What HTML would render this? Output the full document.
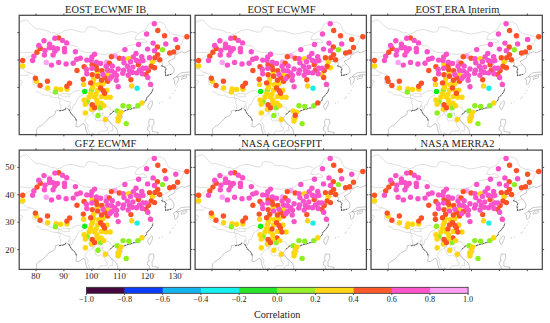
<!DOCTYPE html><html><head><meta charset="utf-8"><style>html,body{margin:0;padding:0;background:#fff;}svg{display:block}text{font-family:"Liberation Serif",serif;fill:#222}</style></head><body>
<svg width="550" height="323" viewBox="0 0 550 323">
<defs>
<clipPath id="cp"><rect x="0" y="0" width="171.3" height="119.3"/></clipPath>
<g id="map">
<g fill="none" stroke="#c4c4c4" stroke-width="0.55" stroke-linejoin="round"><path d="M0.0,7.3 L0.9,6.8 L4.2,5.2 L7.4,4.6 L10.7,7.9 L14.0,11.2 L17.8,13.9 L20.0,13.3 L22.7,14.4 L27.1,15.0 L30.3,16.6 L32.5,17.7 L35.2,17.1 L37.4,18.8 L40.7,18.2 L42.9,17.1 L45.6,15.5 L50.0,14.4 L53.2,14.4 L56.5,15.0 L56.8,15.6 L61.2,16.7 L65.5,16.7 L67.2,14.5 L67.7,12.3 L69.9,11.5 L74.2,11.8 L77.5,12.9 L79.7,15.1 L83.0,15.8 L87.3,15.6 L91.7,16.7 L95.0,17.8 L99.3,18.9 L103.7,18.3 L108.1,17.2 L112.4,16.2 L115.3,16.7 L119.0,18.3"/><path d="M37.4,18.8 L39.8,21.2 L42.8,24.2 L45.8,27.2 L49.4,29.3 L52.8,30.1 L56.8,30.9 L59.0,33.1 L61.2,35.2 L65.5,36.9 L71.0,37.4 L78.6,38.5 L85.2,39.1 L92.8,38.5 L98.2,37.4 L101.5,35.2 L104.8,33.1 L108.1,30.9 L112.4,29.8 L116.3,29.2 L118.6,28.1 L120.8,27.3 L127.7,27.3 L127.2,25.6 L123.8,23.6 L120.5,24.5 L115.7,24.2 L116.0,22.8 L117.3,20.2 L119.0,18.3"/><path d="M119.0,18.3 L122.8,16.3 L126.1,14.7 L127.7,11.5 L128.8,9.3 L132.1,7.1 L137.5,6.6 L141.8,7.1 L144.5,8.2 L146.1,10.4 L147.2,13.6 L149.4,16.9 L152.6,18.5 L157.0,19.6 L161.3,20.7 L165.6,21.7 L168.9,20.9 L171.8,20.2"/><path d="M165.6,21.7 L164.6,22.7 L163.5,25.5 L162.4,28.8 L160.4,30.6 L159.4,33.2 L159.0,35.7 L157.7,38.8"/><path d="M157.7,38.8 L154.8,39.0 L151.8,40.5 L148.8,42.1 L145.3,44.0 L142.3,45.7 L140.0,47.2"/><path d="M37.2,20.1 L35.2,21.7 L32.7,25.6 L25.2,25.6 L23.2,30.0 L18.2,31.3 L16.8,31.9 L17.9,34.6 L17.4,37.4 L16.5,38.7 L12.6,40.1 L8.4,42.3 L5.6,44.2 L2.6,43.9 L-0.5,46.4 L2.3,49.4 L2.6,52.7 L4.2,53.8 L7.0,56.5 L10.7,57.6 L15.4,59.3 L14.8,62.8 L13.5,65.9 L13.7,68.6 L16.2,70.2 L19.9,72.2"/><path d="M19.9,72.2 L23.8,73.2 L28.0,75.4 L32.1,77.4 L35.2,78.2 L39.1,78.5 L41.4,80.1 L42.5,78.2 L46.1,77.9 L49.2,78.7 L51.7,78.5 L55.9,76.0 L60.0,74.9 L62.8,77.1 L65.1,77.6 L67.0,79.3 L69.0,80.9 L68.4,84.2 L65.9,87.2 L69.3,88.9 L70.4,92.2 L71.2,94.1 L72.9,96.0 L75.7,96.0 L77.3,93.5 L78.7,93.8 L80.7,93.0 L82.4,92.7 L85.2,91.9 L87.9,91.3 L91.0,92.2 L91.3,94.3 L93.2,95.4 L94.9,95.7"/><path d="M17.1,76.0 L20.1,77.1 L22.4,79.3 L26.0,79.8 L29.1,79.8 L31.9,81.5 L35.2,82.3 L39.4,82.6 L39.7,78.5"/><path d="M41.4,80.1 L44.1,81.5 L48.9,81.5 L50.6,81.2 L49.2,78.7"/><path d="M0.1,36.5 L4.2,37.4 L7.9,37.1 L12.6,37.6 L16.2,38.2 L17.4,39.3"/><path d="M0.1,46.9 L4.2,46.4 L-0.5,46.4"/><path d="M0.1,53.0 L2.6,52.7"/><path d="M0.1,53.8 L2.6,53.5 L4.2,53.8"/><path d="M0.1,60.9 L1.5,59.8 L4.2,60.1 L7.9,60.1 L10.7,57.6"/><path d="M0.1,64.8 L1.7,65.0 L3.7,66.4 L1.7,68.6 L1.5,70.2 L0.1,71.6"/><path d="M39.4,82.6 L41.1,83.1 L44.1,83.9 L46.1,85.9 L50.3,86.1 L51.4,88.3 L50.0,89.4 L49.2,92.2 L50.8,90.2 L52.0,94.9 L51.1,96.5"/><path d="M39.4,82.6 L40.2,83.9 L41.6,85.3 L39.7,86.7 L41.6,89.4 L41.4,93.8 L41.9,95.4"/><path d="M65.1,77.6 L64.0,79.6 L59.5,82.0 L57.5,85.3 L56.1,89.4 L53.9,89.7 L53.3,93.3 L52.0,94.9"/><path d="M72.9,96.0 L73.4,97.9 L75.7,96.0"/><path d="M73.4,97.9 L71.2,99.6 L68.4,101.2 L66.5,103.9 L65.6,105.6 L69.0,110.0 L68.4,113.0 L70.1,117.1 L70.4,119.8"/><path d="M73.4,97.9 L74.0,99.6 L75.7,101.2 L76.2,104.5 L78.5,105.9 L81.5,104.8 L85.7,107.2 L86.0,111.1 L88.2,112.4 L87.9,115.2 L86.5,115.7 L81.2,115.7 L79.3,117.6 L79.3,119.8"/><path d="M78.7,93.8 L79.6,96.3 L81.5,97.9 L84.0,97.6 L83.2,100.1 L86.3,101.5 L85.2,103.4 L88.2,104.5 L91.0,107.5 L93.2,110.2 L93.5,112.7 L93.8,115.4 L90.7,115.2 L89.3,117.1 L89.1,119.6"/><path d="M145.4,51.3 L147.9,50.2 L151.8,49.1"/></g>
<g fill="none" stroke="#9a9a9a" stroke-width="0.55" stroke-linejoin="round"><path d="M16.8,119.7 L17.4,117.6 L17.4,113.8 L19.6,111.6 L23.2,109.4 L26.6,106.4 L30.2,102.3 L34.7,100.4 L36.3,97.6 L36.1,95.7 L38.8,94.9 L40.8,95.7 L43.3,94.9 L45.8,94.6 L46.4,92.4 L48.9,93.5 L49.7,94.1 L51.1,96.5 L52.0,98.5 L54.5,100.6 L56.4,102.8 L57.3,107.0 L56.7,111.1 L59.5,111.6 L62.3,109.4 L64.8,108.3 L65.9,109.7 L66.5,113.8 L67.6,117.1 L68.7,119.7"/><path d="M70.6,119.7 L72.5,118.7 L73.4,117.9 L75.4,119.6 L76.2,119.7"/><path d="M98.3,119.7 L98.5,117.1 L97.7,113.8 L95.5,111.1 L92.4,108.6 L90.7,106.7 L88.5,103.4 L88.8,101.5 L91.0,99.3 L92.4,97.6 L94.9,95.7 L96.6,95.4 L99.7,96.0 L100.8,99.3 L101.6,99.0 L102.2,96.8 L105.0,95.7 L108.9,94.3 L111.7,93.7 L114.5,92.7 L118.6,92.2 L121.4,90.0 L124.2,87.8 L127.0,84.8 L127.6,82.3 L129.8,80.4 L132.6,76.8 L134.0,73.2 L132.6,71.9 L133.7,70.2 L131.2,67.2 L129.8,64.5 L126.4,60.4 L128.4,57.4 L131.2,54.9 L135.7,52.7 L132.6,52.2 L130.4,51.3 L126.4,53.0 L125.1,51.6 L122.8,50.2 L122.0,48.0 L125.6,47.2 L128.4,45.3 L131.2,43.1 L134.5,43.9 L132.0,48.3 L134.5,46.9 L138.2,45.8 L140.4,45.6 L142.4,46.4 L143.5,48.9 L142.4,50.8 L145.4,51.6 L146.8,53.5 L146.0,56.3 L146.5,59.0 L146.3,60.4 L149.0,59.8 L152.1,59.0 L154.6,57.6 L154.9,54.9 L154.6,53.0 L152.4,50.0 L149.6,47.2 L149.3,45.8 L152.4,44.5 L155.5,42.6 L155.7,40.4 L158.0,38.7"/><path d="M158.0,38.7 L159.9,37.4 L162.7,36.3 L165.2,37.6 L168.9,36.0 L171.6,34.6"/><path d="M96.6,102.3 L96.9,104.2 L99.1,105.0 L101.9,103.7 L103.3,100.9 L102.2,99.8 L99.4,100.1 L96.9,101.2 L96.6,102.3"/><path d="M128.7,91.9 L130.4,94.6 L131.2,93.3 L132.6,90.5 L133.7,86.7 L132.6,85.6 L130.4,87.5 L128.7,90.2 L128.7,91.9"/><path d="M153.8,63.7 L155.2,62.3 L157.4,61.5 L159.4,63.1 L158.5,66.9 L156.6,69.4 L155.2,68.3 L155.5,65.0 L153.8,63.7"/><path d="M161.9,63.1 L163.8,61.2 L167.5,60.6 L167.7,61.7 L166.3,63.1 L163.8,63.1 L162.7,64.5 L161.9,63.1"/><path d="M173.9,60.9 L171.4,60.4 L170.0,59.5 L169.1,59.3 L165.8,59.5 L163.0,60.4 L159.9,61.5 L157.1,61.2 L158.3,60.1 L162.2,57.4 L165.8,57.1 L169.4,56.8 L171.9,56.8 L173.9,55.7"/><path d="M130.1,104.2 L131.7,103.9 L134.5,104.2 L134.8,108.0 L132.9,111.3 L132.9,116.0 L134.5,116.5 L139.3,117.1 L137.6,119.7"/><path d="M130.1,104.2 L129.5,107.8 L130.1,111.1 L129.0,111.1 L128.1,112.7 L128.4,114.9 L130.4,116.3 L130.1,117.9 L131.5,119.7"/><path d="M149.6,83.4 L151.6,81.5"/><path d="M139.6,88.0 L141.0,87.5"/><path d="M142.9,86.9 L143.7,86.7"/><path d="M153.2,78.7 L154.6,77.4"/><path d="M155.5,75.7 L156.3,74.6"/><path d="M157.4,71.9 L158.3,71.1"/></g>
<g fill="none" stroke="#404040" stroke-width="0.85" stroke-dasharray="2.2 0.8" stroke-linejoin="round"><path d="M40.0,95.2 L40.8,95.7 L41.9,94.9 L43.3,95.2 L44.7,94.6 L45.8,94.6 L46.4,93.0"/><path d="M49.7,93.8 L50.3,95.7 L51.1,96.8 L52.0,98.5 L53.3,100.1 L54.7,101.2 L56.4,102.8 L57.3,105.9"/><path d="M91.0,99.3 L92.4,97.6 L94.9,95.7 L96.6,95.4 L99.7,96.0 L100.8,97.6"/><path d="M102.2,96.8 L105.0,95.7 L108.9,94.3 L111.7,93.7 L114.5,92.7 L118.6,92.2 L121.4,90.0 L124.2,87.8 L127.0,84.8 L127.6,82.3 L129.8,80.4 L132.6,76.8 L134.0,73.2"/><path d="M142.9,50.0 L142.4,50.8 L145.4,51.6 L146.8,53.5 L146.0,56.3 L146.5,59.0 L146.3,60.4 L149.0,59.8 L152.1,59.0"/></g>
</g>
</defs>
<g transform="translate(19.2,15.3)">
<g clip-path="url(#cp)">
<use href="#map"/>
<circle cx="14.7" cy="40.9" r="2.7" fill="#fa52c9"/>
<circle cx="81.9" cy="87.8" r="2.7" fill="#ffd60f"/>
<circle cx="117.9" cy="73.0" r="2.7" fill="#12f0e8"/>
<circle cx="65.5" cy="76.1" r="2.7" fill="#14f014"/>
<circle cx="72.3" cy="74.6" r="2.7" fill="#8cf01e"/>
<circle cx="68.0" cy="86.3" r="2.7" fill="#8cf01e"/>
<circle cx="81.2" cy="92.5" r="2.7" fill="#8cf01e"/>
<circle cx="78.8" cy="100.2" r="2.7" fill="#8cf01e"/>
<circle cx="143.3" cy="34.5" r="2.7" fill="#8cf01e"/>
<circle cx="103.8" cy="90.5" r="2.7" fill="#8cf01e"/>
<circle cx="109.7" cy="91.2" r="2.7" fill="#8cf01e"/>
<circle cx="118.7" cy="90.5" r="2.7" fill="#8cf01e"/>
<circle cx="98.1" cy="95.6" r="2.7" fill="#8cf01e"/>
<circle cx="107.0" cy="108.3" r="2.7" fill="#8cf01e"/>
<circle cx="3.5" cy="50.6" r="2.7" fill="#ffd60f"/>
<circle cx="17.1" cy="65.9" r="2.7" fill="#ffd60f"/>
<circle cx="28.5" cy="72.7" r="2.7" fill="#ffd60f"/>
<circle cx="37.0" cy="73.7" r="2.7" fill="#ffd60f"/>
<circle cx="41.5" cy="74.1" r="2.7" fill="#ffd60f"/>
<circle cx="47.8" cy="74.0" r="2.7" fill="#ffd60f"/>
<circle cx="78.1" cy="57.6" r="2.7" fill="#ffd60f"/>
<circle cx="88.5" cy="59.1" r="2.7" fill="#ffd60f"/>
<circle cx="74.6" cy="64.1" r="2.7" fill="#ffd60f"/>
<circle cx="64.5" cy="69.1" r="2.7" fill="#ffd60f"/>
<circle cx="74.2" cy="68.4" r="2.7" fill="#ffd60f"/>
<circle cx="79.2" cy="69.5" r="2.7" fill="#ffd60f"/>
<circle cx="83.9" cy="68.4" r="2.7" fill="#ffd60f"/>
<circle cx="73.4" cy="72.2" r="2.7" fill="#ffd60f"/>
<circle cx="78.5" cy="74.9" r="2.7" fill="#ffd60f"/>
<circle cx="87.7" cy="74.9" r="2.7" fill="#ffd60f"/>
<circle cx="71.5" cy="78.4" r="2.7" fill="#ffd60f"/>
<circle cx="76.9" cy="78.8" r="2.7" fill="#ffd60f"/>
<circle cx="82.3" cy="81.3" r="2.7" fill="#ffd60f"/>
<circle cx="91.0" cy="81.9" r="2.7" fill="#ffd60f"/>
<circle cx="69.9" cy="81.9" r="2.7" fill="#ffd60f"/>
<circle cx="75.4" cy="81.7" r="2.7" fill="#ffd60f"/>
<circle cx="86.8" cy="82.0" r="2.7" fill="#ffd60f"/>
<circle cx="64.9" cy="84.7" r="2.7" fill="#ffd60f"/>
<circle cx="77.7" cy="84.7" r="2.7" fill="#ffd60f"/>
<circle cx="66.1" cy="89.0" r="2.7" fill="#ffd60f"/>
<circle cx="77.7" cy="88.6" r="2.7" fill="#ffd60f"/>
<circle cx="84.6" cy="90.5" r="2.7" fill="#ffd60f"/>
<circle cx="72.3" cy="94.0" r="2.7" fill="#ffd60f"/>
<circle cx="66.2" cy="97.6" r="2.7" fill="#ffd60f"/>
<circle cx="86.2" cy="104.2" r="2.7" fill="#ffd60f"/>
<circle cx="109.4" cy="43.5" r="2.7" fill="#ffd60f"/>
<circle cx="133.1" cy="46.7" r="2.7" fill="#ffd60f"/>
<circle cx="112.5" cy="70.7" r="2.7" fill="#ffd60f"/>
<circle cx="122.7" cy="87.6" r="2.7" fill="#ffd60f"/>
<circle cx="101.6" cy="96.8" r="2.7" fill="#ffd60f"/>
<circle cx="100.2" cy="99.9" r="2.7" fill="#ffd60f"/>
<circle cx="99.3" cy="103.1" r="2.7" fill="#ffd60f"/>
<circle cx="98.9" cy="105.8" r="2.7" fill="#ffd60f"/>
<circle cx="27.1" cy="47.1" r="2.7" fill="#ff9ef2"/>
<circle cx="95.9" cy="40.6" r="2.7" fill="#ff9ef2"/>
<circle cx="87.3" cy="46.8" r="2.7" fill="#ff9ef2"/>
<circle cx="39.5" cy="22.6" r="2.7" fill="#fd5226"/>
<circle cx="21.1" cy="33.2" r="2.7" fill="#fd5226"/>
<circle cx="17.8" cy="37.0" r="2.7" fill="#fd5226"/>
<circle cx="3.5" cy="45.2" r="2.7" fill="#fd5226"/>
<circle cx="57.8" cy="55.2" r="2.7" fill="#fd5226"/>
<circle cx="16.2" cy="63.0" r="2.7" fill="#fd5226"/>
<circle cx="28.3" cy="65.9" r="2.7" fill="#fd5226"/>
<circle cx="20.9" cy="70.2" r="2.7" fill="#fd5226"/>
<circle cx="50.4" cy="67.9" r="2.7" fill="#fd5226"/>
<circle cx="47.7" cy="71.0" r="2.7" fill="#fd5226"/>
<circle cx="92.2" cy="41.5" r="2.7" fill="#fd5226"/>
<circle cx="90.1" cy="47.9" r="2.7" fill="#fd5226"/>
<circle cx="64.9" cy="51.4" r="2.7" fill="#fd5226"/>
<circle cx="73.0" cy="49.5" r="2.7" fill="#fd5226"/>
<circle cx="76.9" cy="51.0" r="2.7" fill="#fd5226"/>
<circle cx="77.7" cy="54.1" r="2.7" fill="#fd5226"/>
<circle cx="82.7" cy="55.3" r="2.7" fill="#fd5226"/>
<circle cx="73.0" cy="59.5" r="2.7" fill="#fd5226"/>
<circle cx="78.5" cy="61.0" r="2.7" fill="#fd5226"/>
<circle cx="85.8" cy="62.6" r="2.7" fill="#fd5226"/>
<circle cx="82.3" cy="64.9" r="2.7" fill="#fd5226"/>
<circle cx="64.1" cy="64.0" r="2.7" fill="#fd5226"/>
<circle cx="88.5" cy="66.0" r="2.7" fill="#fd5226"/>
<circle cx="71.5" cy="67.6" r="2.7" fill="#fd5226"/>
<circle cx="81.5" cy="72.6" r="2.7" fill="#fd5226"/>
<circle cx="83.9" cy="75.3" r="2.7" fill="#fd5226"/>
<circle cx="85.4" cy="78.0" r="2.7" fill="#fd5226"/>
<circle cx="73.0" cy="89.4" r="2.7" fill="#fd5226"/>
<circle cx="75.4" cy="92.5" r="2.7" fill="#fd5226"/>
<circle cx="100.1" cy="42.9" r="2.7" fill="#fd5226"/>
<circle cx="119.1" cy="49.5" r="2.7" fill="#fd5226"/>
<circle cx="132.0" cy="50.9" r="2.7" fill="#fd5226"/>
<circle cx="129.1" cy="55.3" r="2.7" fill="#fd5226"/>
<circle cx="126.8" cy="59.1" r="2.7" fill="#fd5226"/>
<circle cx="111.7" cy="64.5" r="2.7" fill="#fd5226"/>
<circle cx="138.6" cy="15.2" r="2.7" fill="#fd5226"/>
<circle cx="145.4" cy="20.5" r="2.7" fill="#fd5226"/>
<circle cx="167.7" cy="21.4" r="2.7" fill="#fd5226"/>
<circle cx="138.2" cy="31.7" r="2.7" fill="#fd5226"/>
<circle cx="158.4" cy="32.2" r="2.7" fill="#fd5226"/>
<circle cx="154.5" cy="36.6" r="2.7" fill="#fd5226"/>
<circle cx="150.5" cy="37.7" r="2.7" fill="#fd5226"/>
<circle cx="138.5" cy="39.3" r="2.7" fill="#fd5226"/>
<circle cx="135.8" cy="42.4" r="2.7" fill="#fd5226"/>
<circle cx="140.5" cy="44.4" r="2.7" fill="#fd5226"/>
<circle cx="135.4" cy="52.5" r="2.7" fill="#fd5226"/>
<circle cx="24.8" cy="25.5" r="2.7" fill="#fa52c9"/>
<circle cx="35.7" cy="23.0" r="2.7" fill="#fa52c9"/>
<circle cx="43.2" cy="25.1" r="2.7" fill="#fa52c9"/>
<circle cx="47.5" cy="27.6" r="2.7" fill="#fa52c9"/>
<circle cx="19.6" cy="30.1" r="2.7" fill="#fa52c9"/>
<circle cx="30.4" cy="28.8" r="2.7" fill="#fa52c9"/>
<circle cx="30.2" cy="32.5" r="2.7" fill="#fa52c9"/>
<circle cx="33.9" cy="32.5" r="2.7" fill="#fa52c9"/>
<circle cx="38.2" cy="33.4" r="2.7" fill="#fa52c9"/>
<circle cx="45.3" cy="33.2" r="2.7" fill="#fa52c9"/>
<circle cx="25.8" cy="35.2" r="2.7" fill="#fa52c9"/>
<circle cx="35.7" cy="35.9" r="2.7" fill="#fa52c9"/>
<circle cx="45.4" cy="36.4" r="2.7" fill="#fa52c9"/>
<circle cx="56.2" cy="36.5" r="2.7" fill="#fa52c9"/>
<circle cx="25.2" cy="39.7" r="2.7" fill="#fa52c9"/>
<circle cx="33.9" cy="39.7" r="2.7" fill="#fa52c9"/>
<circle cx="13.4" cy="45.2" r="2.7" fill="#fa52c9"/>
<circle cx="32.3" cy="49.8" r="2.7" fill="#fa52c9"/>
<circle cx="39.5" cy="47.1" r="2.7" fill="#fa52c9"/>
<circle cx="46.9" cy="48.7" r="2.7" fill="#fa52c9"/>
<circle cx="54.0" cy="48.0" r="2.7" fill="#fa52c9"/>
<circle cx="57.6" cy="44.0" r="2.7" fill="#fa52c9"/>
<circle cx="75.4" cy="39.0" r="2.7" fill="#fa52c9"/>
<circle cx="72.7" cy="41.7" r="2.7" fill="#fa52c9"/>
<circle cx="61.1" cy="42.9" r="2.7" fill="#fa52c9"/>
<circle cx="67.6" cy="44.8" r="2.7" fill="#fa52c9"/>
<circle cx="71.9" cy="45.2" r="2.7" fill="#fa52c9"/>
<circle cx="77.3" cy="46.8" r="2.7" fill="#fa52c9"/>
<circle cx="81.4" cy="48.1" r="2.7" fill="#fa52c9"/>
<circle cx="87.0" cy="51.0" r="2.7" fill="#fa52c9"/>
<circle cx="93.1" cy="50.6" r="2.7" fill="#fa52c9"/>
<circle cx="67.2" cy="54.1" r="2.7" fill="#fa52c9"/>
<circle cx="72.7" cy="52.9" r="2.7" fill="#fa52c9"/>
<circle cx="67.6" cy="58.4" r="2.7" fill="#fa52c9"/>
<circle cx="83.9" cy="59.1" r="2.7" fill="#fa52c9"/>
<circle cx="88.5" cy="54.9" r="2.7" fill="#fa52c9"/>
<circle cx="92.4" cy="55.6" r="2.7" fill="#fa52c9"/>
<circle cx="95.5" cy="57.6" r="2.7" fill="#fa52c9"/>
<circle cx="90.8" cy="63.3" r="2.7" fill="#fa52c9"/>
<circle cx="104.0" cy="43.5" r="2.7" fill="#fa52c9"/>
<circle cx="116.8" cy="38.2" r="2.7" fill="#fa52c9"/>
<circle cx="114.1" cy="41.7" r="2.7" fill="#fa52c9"/>
<circle cx="122.6" cy="41.3" r="2.7" fill="#fa52c9"/>
<circle cx="130.3" cy="42.5" r="2.7" fill="#fa52c9"/>
<circle cx="111.4" cy="46.4" r="2.7" fill="#fa52c9"/>
<circle cx="104.8" cy="47.5" r="2.7" fill="#fa52c9"/>
<circle cx="120.0" cy="46.0" r="2.7" fill="#fa52c9"/>
<circle cx="123.7" cy="45.2" r="2.7" fill="#fa52c9"/>
<circle cx="108.3" cy="51.0" r="2.7" fill="#fa52c9"/>
<circle cx="113.7" cy="51.8" r="2.7" fill="#fa52c9"/>
<circle cx="99.0" cy="53.7" r="2.7" fill="#fa52c9"/>
<circle cx="104.4" cy="54.9" r="2.7" fill="#fa52c9"/>
<circle cx="110.2" cy="55.3" r="2.7" fill="#fa52c9"/>
<circle cx="120.3" cy="54.9" r="2.7" fill="#fa52c9"/>
<circle cx="123.7" cy="52.9" r="2.7" fill="#fa52c9"/>
<circle cx="126.8" cy="52.9" r="2.7" fill="#fa52c9"/>
<circle cx="103.6" cy="58.0" r="2.7" fill="#fa52c9"/>
<circle cx="113.3" cy="57.2" r="2.7" fill="#fa52c9"/>
<circle cx="117.5" cy="57.6" r="2.7" fill="#fa52c9"/>
<circle cx="123.0" cy="58.4" r="2.7" fill="#fa52c9"/>
<circle cx="97.4" cy="60.2" r="2.7" fill="#fa52c9"/>
<circle cx="109.0" cy="59.9" r="2.7" fill="#fa52c9"/>
<circle cx="128.6" cy="62.2" r="2.7" fill="#fa52c9"/>
<circle cx="97.1" cy="64.9" r="2.7" fill="#fa52c9"/>
<circle cx="99.0" cy="71.5" r="2.7" fill="#fa52c9"/>
<circle cx="131.3" cy="69.1" r="2.7" fill="#fa52c9"/>
<circle cx="135.1" cy="8.4" r="2.7" fill="#fa52c9"/>
<circle cx="127.4" cy="18.7" r="2.7" fill="#fa52c9"/>
<circle cx="156.6" cy="24.1" r="2.7" fill="#fa52c9"/>
<circle cx="119.4" cy="29.2" r="2.7" fill="#fa52c9"/>
<circle cx="133.9" cy="27.8" r="2.7" fill="#fa52c9"/>
<circle cx="146.6" cy="28.6" r="2.7" fill="#fa52c9"/>
<circle cx="128.4" cy="33.8" r="2.7" fill="#fa52c9"/>
<circle cx="135.3" cy="35.4" r="2.7" fill="#fa52c9"/>
<circle cx="105.7" cy="34.3" r="2.7" fill="#fa52c9"/>
<circle cx="92.6" cy="61.3" r="2.7" fill="#fa52c9"/>
<circle cx="117.2" cy="45.1" r="2.7" fill="#fa52c9"/>
<circle cx="36.2" cy="76.7" r="2.7" fill="#8cf01e"/>
</g>
<rect x="0" y="0" width="171.3" height="119.3" fill="none" stroke="#484848" stroke-width="1.25"/>
<path d="M16.8,0 v-1.8 M16.8,119.3 v1.8 M44.7,0 v-1.8 M44.7,119.3 v1.8 M72.6,0 v-1.8 M72.6,119.3 v1.8 M100.5,0 v-1.8 M100.5,119.3 v1.8 M128.4,0 v-1.8 M128.4,119.3 v1.8 M156.3,0 v-1.8 M156.3,119.3 v1.8 M0,17.3 h-1.8 M171.3,17.3 h1.8 M0,44.7 h-1.8 M171.3,44.7 h1.8 M0,72.1 h-1.8 M171.3,72.1 h1.8 M0,99.5 h-1.8 M171.3,99.5 h1.8" stroke="#3a3a3a" stroke-width="0.9" fill="none"/>
<text x="86.5" y="-2.6" font-size="10.4" letter-spacing="0.15" text-anchor="middle">EOST ECWMF IB</text>
</g>
<g transform="translate(195.1,15.3)">
<g clip-path="url(#cp)">
<use href="#map"/>
<circle cx="14.7" cy="40.9" r="2.7" fill="#fd5226"/>
<circle cx="81.9" cy="87.8" r="2.7" fill="#ffd60f"/>
<circle cx="117.9" cy="73.0" r="2.7" fill="#12f0e8"/>
<circle cx="65.5" cy="76.1" r="2.7" fill="#14f014"/>
<circle cx="72.3" cy="74.6" r="2.7" fill="#8cf01e"/>
<circle cx="68.0" cy="86.3" r="2.7" fill="#8cf01e"/>
<circle cx="81.2" cy="92.5" r="2.7" fill="#8cf01e"/>
<circle cx="78.8" cy="100.2" r="2.7" fill="#8cf01e"/>
<circle cx="143.3" cy="34.5" r="2.7" fill="#8cf01e"/>
<circle cx="103.8" cy="90.5" r="2.7" fill="#8cf01e"/>
<circle cx="109.7" cy="91.2" r="2.7" fill="#8cf01e"/>
<circle cx="118.7" cy="90.5" r="2.7" fill="#8cf01e"/>
<circle cx="107.0" cy="108.3" r="2.7" fill="#8cf01e"/>
<circle cx="3.5" cy="50.6" r="2.7" fill="#ffd60f"/>
<circle cx="17.1" cy="65.9" r="2.7" fill="#ffd60f"/>
<circle cx="28.5" cy="72.7" r="2.7" fill="#ffd60f"/>
<circle cx="37.0" cy="73.7" r="2.7" fill="#ffd60f"/>
<circle cx="41.5" cy="74.1" r="2.7" fill="#ffd60f"/>
<circle cx="47.8" cy="74.0" r="2.7" fill="#ffd60f"/>
<circle cx="78.1" cy="57.6" r="2.7" fill="#ffd60f"/>
<circle cx="88.5" cy="59.1" r="2.7" fill="#ffd60f"/>
<circle cx="74.6" cy="64.1" r="2.7" fill="#ffd60f"/>
<circle cx="64.5" cy="69.1" r="2.7" fill="#ffd60f"/>
<circle cx="74.2" cy="68.4" r="2.7" fill="#ffd60f"/>
<circle cx="79.2" cy="69.5" r="2.7" fill="#ffd60f"/>
<circle cx="83.9" cy="68.4" r="2.7" fill="#ffd60f"/>
<circle cx="73.4" cy="72.2" r="2.7" fill="#ffd60f"/>
<circle cx="78.5" cy="74.9" r="2.7" fill="#ffd60f"/>
<circle cx="87.7" cy="74.9" r="2.7" fill="#ffd60f"/>
<circle cx="71.5" cy="78.4" r="2.7" fill="#ffd60f"/>
<circle cx="76.9" cy="78.8" r="2.7" fill="#ffd60f"/>
<circle cx="82.3" cy="81.3" r="2.7" fill="#ffd60f"/>
<circle cx="91.0" cy="81.9" r="2.7" fill="#ffd60f"/>
<circle cx="69.9" cy="81.9" r="2.7" fill="#ffd60f"/>
<circle cx="75.4" cy="81.7" r="2.7" fill="#ffd60f"/>
<circle cx="86.8" cy="82.0" r="2.7" fill="#ffd60f"/>
<circle cx="64.9" cy="84.7" r="2.7" fill="#ffd60f"/>
<circle cx="77.7" cy="84.7" r="2.7" fill="#ffd60f"/>
<circle cx="66.1" cy="89.0" r="2.7" fill="#ffd60f"/>
<circle cx="77.7" cy="88.6" r="2.7" fill="#ffd60f"/>
<circle cx="84.6" cy="90.5" r="2.7" fill="#ffd60f"/>
<circle cx="72.3" cy="94.0" r="2.7" fill="#ffd60f"/>
<circle cx="66.2" cy="97.6" r="2.7" fill="#ffd60f"/>
<circle cx="86.2" cy="104.2" r="2.7" fill="#ffd60f"/>
<circle cx="109.4" cy="43.5" r="2.7" fill="#ffd60f"/>
<circle cx="133.1" cy="46.7" r="2.7" fill="#ffd60f"/>
<circle cx="126.8" cy="59.1" r="2.7" fill="#ffd60f"/>
<circle cx="112.5" cy="70.7" r="2.7" fill="#ffd60f"/>
<circle cx="135.4" cy="52.5" r="2.7" fill="#ffd60f"/>
<circle cx="98.1" cy="95.6" r="2.7" fill="#ffd60f"/>
<circle cx="101.6" cy="96.8" r="2.7" fill="#ffd60f"/>
<circle cx="99.3" cy="103.1" r="2.7" fill="#ffd60f"/>
<circle cx="98.9" cy="105.8" r="2.7" fill="#ffd60f"/>
<circle cx="27.1" cy="47.1" r="2.7" fill="#ff9ef2"/>
<circle cx="95.9" cy="40.6" r="2.7" fill="#ff9ef2"/>
<circle cx="87.3" cy="46.8" r="2.7" fill="#ff9ef2"/>
<circle cx="39.5" cy="22.6" r="2.7" fill="#fd5226"/>
<circle cx="21.1" cy="33.2" r="2.7" fill="#fd5226"/>
<circle cx="17.8" cy="37.0" r="2.7" fill="#fd5226"/>
<circle cx="3.5" cy="45.2" r="2.7" fill="#fd5226"/>
<circle cx="57.8" cy="55.2" r="2.7" fill="#fd5226"/>
<circle cx="16.2" cy="63.0" r="2.7" fill="#fd5226"/>
<circle cx="28.3" cy="65.9" r="2.7" fill="#fd5226"/>
<circle cx="20.9" cy="70.2" r="2.7" fill="#fd5226"/>
<circle cx="50.4" cy="67.9" r="2.7" fill="#fd5226"/>
<circle cx="47.7" cy="71.0" r="2.7" fill="#fd5226"/>
<circle cx="92.2" cy="41.5" r="2.7" fill="#fd5226"/>
<circle cx="90.1" cy="47.9" r="2.7" fill="#fd5226"/>
<circle cx="64.9" cy="51.4" r="2.7" fill="#fd5226"/>
<circle cx="73.0" cy="49.5" r="2.7" fill="#fd5226"/>
<circle cx="76.9" cy="51.0" r="2.7" fill="#fd5226"/>
<circle cx="77.7" cy="54.1" r="2.7" fill="#fd5226"/>
<circle cx="82.7" cy="55.3" r="2.7" fill="#fd5226"/>
<circle cx="73.0" cy="59.5" r="2.7" fill="#fd5226"/>
<circle cx="78.5" cy="61.0" r="2.7" fill="#fd5226"/>
<circle cx="85.8" cy="62.6" r="2.7" fill="#fd5226"/>
<circle cx="82.3" cy="64.9" r="2.7" fill="#fd5226"/>
<circle cx="64.1" cy="64.0" r="2.7" fill="#fd5226"/>
<circle cx="88.5" cy="66.0" r="2.7" fill="#fd5226"/>
<circle cx="71.5" cy="67.6" r="2.7" fill="#fd5226"/>
<circle cx="81.5" cy="72.6" r="2.7" fill="#fd5226"/>
<circle cx="83.9" cy="75.3" r="2.7" fill="#fd5226"/>
<circle cx="85.4" cy="78.0" r="2.7" fill="#fd5226"/>
<circle cx="73.0" cy="89.4" r="2.7" fill="#fd5226"/>
<circle cx="75.4" cy="92.5" r="2.7" fill="#fd5226"/>
<circle cx="100.1" cy="42.9" r="2.7" fill="#fd5226"/>
<circle cx="130.3" cy="42.5" r="2.7" fill="#fd5226"/>
<circle cx="119.1" cy="49.5" r="2.7" fill="#fd5226"/>
<circle cx="132.0" cy="50.9" r="2.7" fill="#fd5226"/>
<circle cx="120.3" cy="54.9" r="2.7" fill="#fd5226"/>
<circle cx="129.1" cy="55.3" r="2.7" fill="#fd5226"/>
<circle cx="128.6" cy="62.2" r="2.7" fill="#fd5226"/>
<circle cx="111.7" cy="64.5" r="2.7" fill="#fd5226"/>
<circle cx="138.6" cy="15.2" r="2.7" fill="#fd5226"/>
<circle cx="145.4" cy="20.5" r="2.7" fill="#fd5226"/>
<circle cx="156.6" cy="24.1" r="2.7" fill="#fd5226"/>
<circle cx="167.7" cy="21.4" r="2.7" fill="#fd5226"/>
<circle cx="138.2" cy="31.7" r="2.7" fill="#fd5226"/>
<circle cx="158.4" cy="32.2" r="2.7" fill="#fd5226"/>
<circle cx="154.5" cy="36.6" r="2.7" fill="#fd5226"/>
<circle cx="150.5" cy="37.7" r="2.7" fill="#fd5226"/>
<circle cx="138.5" cy="39.3" r="2.7" fill="#fd5226"/>
<circle cx="135.8" cy="42.4" r="2.7" fill="#fd5226"/>
<circle cx="140.5" cy="44.4" r="2.7" fill="#fd5226"/>
<circle cx="122.7" cy="87.6" r="2.7" fill="#fd5226"/>
<circle cx="100.2" cy="99.9" r="2.7" fill="#fd5226"/>
<circle cx="92.6" cy="61.3" r="2.7" fill="#fd5226"/>
<circle cx="24.8" cy="25.5" r="2.7" fill="#fa52c9"/>
<circle cx="35.7" cy="23.0" r="2.7" fill="#fa52c9"/>
<circle cx="43.2" cy="25.1" r="2.7" fill="#fa52c9"/>
<circle cx="47.5" cy="27.6" r="2.7" fill="#fa52c9"/>
<circle cx="19.6" cy="30.1" r="2.7" fill="#fa52c9"/>
<circle cx="30.4" cy="28.8" r="2.7" fill="#fa52c9"/>
<circle cx="30.2" cy="32.5" r="2.7" fill="#fa52c9"/>
<circle cx="33.9" cy="32.5" r="2.7" fill="#fa52c9"/>
<circle cx="38.2" cy="33.4" r="2.7" fill="#fa52c9"/>
<circle cx="45.3" cy="33.2" r="2.7" fill="#fa52c9"/>
<circle cx="25.8" cy="35.2" r="2.7" fill="#fa52c9"/>
<circle cx="35.7" cy="35.9" r="2.7" fill="#fa52c9"/>
<circle cx="45.4" cy="36.4" r="2.7" fill="#fa52c9"/>
<circle cx="56.2" cy="36.5" r="2.7" fill="#fa52c9"/>
<circle cx="25.2" cy="39.7" r="2.7" fill="#fa52c9"/>
<circle cx="33.9" cy="39.7" r="2.7" fill="#fa52c9"/>
<circle cx="13.4" cy="45.2" r="2.7" fill="#fa52c9"/>
<circle cx="32.3" cy="49.8" r="2.7" fill="#fa52c9"/>
<circle cx="39.5" cy="47.1" r="2.7" fill="#fa52c9"/>
<circle cx="46.9" cy="48.7" r="2.7" fill="#fa52c9"/>
<circle cx="54.0" cy="48.0" r="2.7" fill="#fa52c9"/>
<circle cx="57.6" cy="44.0" r="2.7" fill="#fa52c9"/>
<circle cx="75.4" cy="39.0" r="2.7" fill="#fa52c9"/>
<circle cx="72.7" cy="41.7" r="2.7" fill="#fa52c9"/>
<circle cx="61.1" cy="42.9" r="2.7" fill="#fa52c9"/>
<circle cx="67.6" cy="44.8" r="2.7" fill="#fa52c9"/>
<circle cx="71.9" cy="45.2" r="2.7" fill="#fa52c9"/>
<circle cx="77.3" cy="46.8" r="2.7" fill="#fa52c9"/>
<circle cx="81.4" cy="48.1" r="2.7" fill="#fa52c9"/>
<circle cx="87.0" cy="51.0" r="2.7" fill="#fa52c9"/>
<circle cx="93.1" cy="50.6" r="2.7" fill="#fa52c9"/>
<circle cx="67.2" cy="54.1" r="2.7" fill="#fa52c9"/>
<circle cx="72.7" cy="52.9" r="2.7" fill="#fa52c9"/>
<circle cx="67.6" cy="58.4" r="2.7" fill="#fa52c9"/>
<circle cx="83.9" cy="59.1" r="2.7" fill="#fa52c9"/>
<circle cx="88.5" cy="54.9" r="2.7" fill="#fa52c9"/>
<circle cx="92.4" cy="55.6" r="2.7" fill="#fa52c9"/>
<circle cx="95.5" cy="57.6" r="2.7" fill="#fa52c9"/>
<circle cx="90.8" cy="63.3" r="2.7" fill="#fa52c9"/>
<circle cx="104.0" cy="43.5" r="2.7" fill="#fa52c9"/>
<circle cx="116.8" cy="38.2" r="2.7" fill="#fa52c9"/>
<circle cx="114.1" cy="41.7" r="2.7" fill="#fa52c9"/>
<circle cx="122.6" cy="41.3" r="2.7" fill="#fa52c9"/>
<circle cx="111.4" cy="46.4" r="2.7" fill="#fa52c9"/>
<circle cx="104.8" cy="47.5" r="2.7" fill="#fa52c9"/>
<circle cx="120.0" cy="46.0" r="2.7" fill="#fa52c9"/>
<circle cx="123.7" cy="45.2" r="2.7" fill="#fa52c9"/>
<circle cx="108.3" cy="51.0" r="2.7" fill="#fa52c9"/>
<circle cx="113.7" cy="51.8" r="2.7" fill="#fa52c9"/>
<circle cx="99.0" cy="53.7" r="2.7" fill="#fa52c9"/>
<circle cx="104.4" cy="54.9" r="2.7" fill="#fa52c9"/>
<circle cx="110.2" cy="55.3" r="2.7" fill="#fa52c9"/>
<circle cx="123.7" cy="52.9" r="2.7" fill="#fa52c9"/>
<circle cx="126.8" cy="52.9" r="2.7" fill="#fa52c9"/>
<circle cx="103.6" cy="58.0" r="2.7" fill="#fa52c9"/>
<circle cx="113.3" cy="57.2" r="2.7" fill="#fa52c9"/>
<circle cx="117.5" cy="57.6" r="2.7" fill="#fa52c9"/>
<circle cx="123.0" cy="58.4" r="2.7" fill="#fa52c9"/>
<circle cx="97.4" cy="60.2" r="2.7" fill="#fa52c9"/>
<circle cx="109.0" cy="59.9" r="2.7" fill="#fa52c9"/>
<circle cx="97.1" cy="64.9" r="2.7" fill="#fa52c9"/>
<circle cx="99.0" cy="71.5" r="2.7" fill="#fa52c9"/>
<circle cx="131.3" cy="69.1" r="2.7" fill="#fa52c9"/>
<circle cx="135.1" cy="8.4" r="2.7" fill="#fa52c9"/>
<circle cx="127.4" cy="18.7" r="2.7" fill="#fa52c9"/>
<circle cx="119.4" cy="29.2" r="2.7" fill="#fa52c9"/>
<circle cx="133.9" cy="27.8" r="2.7" fill="#fa52c9"/>
<circle cx="146.6" cy="28.6" r="2.7" fill="#fa52c9"/>
<circle cx="128.4" cy="33.8" r="2.7" fill="#fa52c9"/>
<circle cx="135.3" cy="35.4" r="2.7" fill="#fa52c9"/>
<circle cx="105.7" cy="34.3" r="2.7" fill="#fa52c9"/>
<circle cx="117.2" cy="45.1" r="2.7" fill="#fa52c9"/>
<circle cx="36.2" cy="76.7" r="2.7" fill="#ffd60f"/>
</g>
<rect x="0" y="0" width="171.3" height="119.3" fill="none" stroke="#484848" stroke-width="1.25"/>
<path d="M16.8,0 v-1.8 M16.8,119.3 v1.8 M44.7,0 v-1.8 M44.7,119.3 v1.8 M72.6,0 v-1.8 M72.6,119.3 v1.8 M100.5,0 v-1.8 M100.5,119.3 v1.8 M128.4,0 v-1.8 M128.4,119.3 v1.8 M156.3,0 v-1.8 M156.3,119.3 v1.8 M0,17.3 h-1.8 M171.3,17.3 h1.8 M0,44.7 h-1.8 M171.3,44.7 h1.8 M0,72.1 h-1.8 M171.3,72.1 h1.8 M0,99.5 h-1.8 M171.3,99.5 h1.8" stroke="#3a3a3a" stroke-width="0.9" fill="none"/>
<text x="86.5" y="-2.6" font-size="10.4" letter-spacing="0.15" text-anchor="middle">EOST ECWMF</text>
</g>
<g transform="translate(371.0,15.3)">
<g clip-path="url(#cp)">
<use href="#map"/>
<circle cx="14.7" cy="40.9" r="2.7" fill="#fa52c9"/>
<circle cx="81.9" cy="87.8" r="2.7" fill="#ffd60f"/>
<circle cx="117.9" cy="73.0" r="2.7" fill="#12f0e8"/>
<circle cx="65.5" cy="76.1" r="2.7" fill="#14f014"/>
<circle cx="72.3" cy="74.6" r="2.7" fill="#8cf01e"/>
<circle cx="68.0" cy="86.3" r="2.7" fill="#8cf01e"/>
<circle cx="81.2" cy="92.5" r="2.7" fill="#8cf01e"/>
<circle cx="66.2" cy="97.6" r="2.7" fill="#8cf01e"/>
<circle cx="78.8" cy="100.2" r="2.7" fill="#8cf01e"/>
<circle cx="143.3" cy="34.5" r="2.7" fill="#8cf01e"/>
<circle cx="103.8" cy="90.5" r="2.7" fill="#8cf01e"/>
<circle cx="109.7" cy="91.2" r="2.7" fill="#8cf01e"/>
<circle cx="118.7" cy="90.5" r="2.7" fill="#8cf01e"/>
<circle cx="98.1" cy="95.6" r="2.7" fill="#8cf01e"/>
<circle cx="107.0" cy="108.3" r="2.7" fill="#8cf01e"/>
<circle cx="3.5" cy="50.6" r="2.7" fill="#ffd60f"/>
<circle cx="28.5" cy="72.7" r="2.7" fill="#ffd60f"/>
<circle cx="37.0" cy="73.7" r="2.7" fill="#ffd60f"/>
<circle cx="41.5" cy="74.1" r="2.7" fill="#ffd60f"/>
<circle cx="47.8" cy="74.0" r="2.7" fill="#ffd60f"/>
<circle cx="73.0" cy="49.5" r="2.7" fill="#ffd60f"/>
<circle cx="78.1" cy="57.6" r="2.7" fill="#ffd60f"/>
<circle cx="88.5" cy="59.1" r="2.7" fill="#ffd60f"/>
<circle cx="74.6" cy="64.1" r="2.7" fill="#ffd60f"/>
<circle cx="64.5" cy="69.1" r="2.7" fill="#ffd60f"/>
<circle cx="74.2" cy="68.4" r="2.7" fill="#ffd60f"/>
<circle cx="79.2" cy="69.5" r="2.7" fill="#ffd60f"/>
<circle cx="83.9" cy="68.4" r="2.7" fill="#ffd60f"/>
<circle cx="73.4" cy="72.2" r="2.7" fill="#ffd60f"/>
<circle cx="78.5" cy="74.9" r="2.7" fill="#ffd60f"/>
<circle cx="83.9" cy="75.3" r="2.7" fill="#ffd60f"/>
<circle cx="87.7" cy="74.9" r="2.7" fill="#ffd60f"/>
<circle cx="71.5" cy="78.4" r="2.7" fill="#ffd60f"/>
<circle cx="76.9" cy="78.8" r="2.7" fill="#ffd60f"/>
<circle cx="82.3" cy="81.3" r="2.7" fill="#ffd60f"/>
<circle cx="91.0" cy="81.9" r="2.7" fill="#ffd60f"/>
<circle cx="69.9" cy="81.9" r="2.7" fill="#ffd60f"/>
<circle cx="75.4" cy="81.7" r="2.7" fill="#ffd60f"/>
<circle cx="86.8" cy="82.0" r="2.7" fill="#ffd60f"/>
<circle cx="64.9" cy="84.7" r="2.7" fill="#ffd60f"/>
<circle cx="77.7" cy="84.7" r="2.7" fill="#ffd60f"/>
<circle cx="66.1" cy="89.0" r="2.7" fill="#ffd60f"/>
<circle cx="77.7" cy="88.6" r="2.7" fill="#ffd60f"/>
<circle cx="84.6" cy="90.5" r="2.7" fill="#ffd60f"/>
<circle cx="72.3" cy="94.0" r="2.7" fill="#ffd60f"/>
<circle cx="86.2" cy="104.2" r="2.7" fill="#ffd60f"/>
<circle cx="109.4" cy="43.5" r="2.7" fill="#ffd60f"/>
<circle cx="133.1" cy="46.7" r="2.7" fill="#ffd60f"/>
<circle cx="112.5" cy="70.7" r="2.7" fill="#ffd60f"/>
<circle cx="122.7" cy="87.6" r="2.7" fill="#ffd60f"/>
<circle cx="101.6" cy="96.8" r="2.7" fill="#ffd60f"/>
<circle cx="100.2" cy="99.9" r="2.7" fill="#ffd60f"/>
<circle cx="99.3" cy="103.1" r="2.7" fill="#ffd60f"/>
<circle cx="98.9" cy="105.8" r="2.7" fill="#ffd60f"/>
<circle cx="27.1" cy="47.1" r="2.7" fill="#ff9ef2"/>
<circle cx="95.9" cy="40.6" r="2.7" fill="#ff9ef2"/>
<circle cx="87.3" cy="46.8" r="2.7" fill="#ff9ef2"/>
<circle cx="39.5" cy="22.6" r="2.7" fill="#fd5226"/>
<circle cx="21.1" cy="33.2" r="2.7" fill="#fd5226"/>
<circle cx="17.8" cy="37.0" r="2.7" fill="#fd5226"/>
<circle cx="3.5" cy="45.2" r="2.7" fill="#fd5226"/>
<circle cx="57.8" cy="55.2" r="2.7" fill="#fd5226"/>
<circle cx="16.2" cy="63.0" r="2.7" fill="#fd5226"/>
<circle cx="17.1" cy="65.9" r="2.7" fill="#fd5226"/>
<circle cx="28.3" cy="65.9" r="2.7" fill="#fd5226"/>
<circle cx="20.9" cy="70.2" r="2.7" fill="#fd5226"/>
<circle cx="50.4" cy="67.9" r="2.7" fill="#fd5226"/>
<circle cx="47.7" cy="71.0" r="2.7" fill="#fd5226"/>
<circle cx="92.2" cy="41.5" r="2.7" fill="#fd5226"/>
<circle cx="90.1" cy="47.9" r="2.7" fill="#fd5226"/>
<circle cx="64.9" cy="51.4" r="2.7" fill="#fd5226"/>
<circle cx="76.9" cy="51.0" r="2.7" fill="#fd5226"/>
<circle cx="77.7" cy="54.1" r="2.7" fill="#fd5226"/>
<circle cx="82.7" cy="55.3" r="2.7" fill="#fd5226"/>
<circle cx="73.0" cy="59.5" r="2.7" fill="#fd5226"/>
<circle cx="78.5" cy="61.0" r="2.7" fill="#fd5226"/>
<circle cx="85.8" cy="62.6" r="2.7" fill="#fd5226"/>
<circle cx="82.3" cy="64.9" r="2.7" fill="#fd5226"/>
<circle cx="64.1" cy="64.0" r="2.7" fill="#fd5226"/>
<circle cx="88.5" cy="66.0" r="2.7" fill="#fd5226"/>
<circle cx="71.5" cy="67.6" r="2.7" fill="#fd5226"/>
<circle cx="81.5" cy="72.6" r="2.7" fill="#fd5226"/>
<circle cx="85.4" cy="78.0" r="2.7" fill="#fd5226"/>
<circle cx="73.0" cy="89.4" r="2.7" fill="#fd5226"/>
<circle cx="75.4" cy="92.5" r="2.7" fill="#fd5226"/>
<circle cx="100.1" cy="42.9" r="2.7" fill="#fd5226"/>
<circle cx="130.3" cy="42.5" r="2.7" fill="#fd5226"/>
<circle cx="119.1" cy="49.5" r="2.7" fill="#fd5226"/>
<circle cx="132.0" cy="50.9" r="2.7" fill="#fd5226"/>
<circle cx="120.3" cy="54.9" r="2.7" fill="#fd5226"/>
<circle cx="129.1" cy="55.3" r="2.7" fill="#fd5226"/>
<circle cx="126.8" cy="59.1" r="2.7" fill="#fd5226"/>
<circle cx="111.7" cy="64.5" r="2.7" fill="#fd5226"/>
<circle cx="138.6" cy="15.2" r="2.7" fill="#fd5226"/>
<circle cx="145.4" cy="20.5" r="2.7" fill="#fd5226"/>
<circle cx="167.7" cy="21.4" r="2.7" fill="#fd5226"/>
<circle cx="138.2" cy="31.7" r="2.7" fill="#fd5226"/>
<circle cx="158.4" cy="32.2" r="2.7" fill="#fd5226"/>
<circle cx="154.5" cy="36.6" r="2.7" fill="#fd5226"/>
<circle cx="150.5" cy="37.7" r="2.7" fill="#fd5226"/>
<circle cx="138.5" cy="39.3" r="2.7" fill="#fd5226"/>
<circle cx="135.8" cy="42.4" r="2.7" fill="#fd5226"/>
<circle cx="140.5" cy="44.4" r="2.7" fill="#fd5226"/>
<circle cx="135.4" cy="52.5" r="2.7" fill="#fd5226"/>
<circle cx="24.8" cy="25.5" r="2.7" fill="#fa52c9"/>
<circle cx="35.7" cy="23.0" r="2.7" fill="#fa52c9"/>
<circle cx="43.2" cy="25.1" r="2.7" fill="#fa52c9"/>
<circle cx="47.5" cy="27.6" r="2.7" fill="#fa52c9"/>
<circle cx="19.6" cy="30.1" r="2.7" fill="#fa52c9"/>
<circle cx="30.4" cy="28.8" r="2.7" fill="#fa52c9"/>
<circle cx="30.2" cy="32.5" r="2.7" fill="#fa52c9"/>
<circle cx="33.9" cy="32.5" r="2.7" fill="#fa52c9"/>
<circle cx="38.2" cy="33.4" r="2.7" fill="#fa52c9"/>
<circle cx="45.3" cy="33.2" r="2.7" fill="#fa52c9"/>
<circle cx="25.8" cy="35.2" r="2.7" fill="#fa52c9"/>
<circle cx="35.7" cy="35.9" r="2.7" fill="#fa52c9"/>
<circle cx="45.4" cy="36.4" r="2.7" fill="#fa52c9"/>
<circle cx="56.2" cy="36.5" r="2.7" fill="#fa52c9"/>
<circle cx="25.2" cy="39.7" r="2.7" fill="#fa52c9"/>
<circle cx="33.9" cy="39.7" r="2.7" fill="#fa52c9"/>
<circle cx="13.4" cy="45.2" r="2.7" fill="#fa52c9"/>
<circle cx="32.3" cy="49.8" r="2.7" fill="#fa52c9"/>
<circle cx="39.5" cy="47.1" r="2.7" fill="#fa52c9"/>
<circle cx="46.9" cy="48.7" r="2.7" fill="#fa52c9"/>
<circle cx="54.0" cy="48.0" r="2.7" fill="#fa52c9"/>
<circle cx="57.6" cy="44.0" r="2.7" fill="#fa52c9"/>
<circle cx="75.4" cy="39.0" r="2.7" fill="#fa52c9"/>
<circle cx="72.7" cy="41.7" r="2.7" fill="#fa52c9"/>
<circle cx="61.1" cy="42.9" r="2.7" fill="#fa52c9"/>
<circle cx="67.6" cy="44.8" r="2.7" fill="#fa52c9"/>
<circle cx="71.9" cy="45.2" r="2.7" fill="#fa52c9"/>
<circle cx="77.3" cy="46.8" r="2.7" fill="#fa52c9"/>
<circle cx="81.4" cy="48.1" r="2.7" fill="#fa52c9"/>
<circle cx="87.0" cy="51.0" r="2.7" fill="#fa52c9"/>
<circle cx="93.1" cy="50.6" r="2.7" fill="#fa52c9"/>
<circle cx="67.2" cy="54.1" r="2.7" fill="#fa52c9"/>
<circle cx="72.7" cy="52.9" r="2.7" fill="#fa52c9"/>
<circle cx="67.6" cy="58.4" r="2.7" fill="#fa52c9"/>
<circle cx="83.9" cy="59.1" r="2.7" fill="#fa52c9"/>
<circle cx="88.5" cy="54.9" r="2.7" fill="#fa52c9"/>
<circle cx="92.4" cy="55.6" r="2.7" fill="#fa52c9"/>
<circle cx="95.5" cy="57.6" r="2.7" fill="#fa52c9"/>
<circle cx="90.8" cy="63.3" r="2.7" fill="#fa52c9"/>
<circle cx="104.0" cy="43.5" r="2.7" fill="#fa52c9"/>
<circle cx="116.8" cy="38.2" r="2.7" fill="#fa52c9"/>
<circle cx="114.1" cy="41.7" r="2.7" fill="#fa52c9"/>
<circle cx="122.6" cy="41.3" r="2.7" fill="#fa52c9"/>
<circle cx="111.4" cy="46.4" r="2.7" fill="#fa52c9"/>
<circle cx="104.8" cy="47.5" r="2.7" fill="#fa52c9"/>
<circle cx="120.0" cy="46.0" r="2.7" fill="#fa52c9"/>
<circle cx="123.7" cy="45.2" r="2.7" fill="#fa52c9"/>
<circle cx="108.3" cy="51.0" r="2.7" fill="#fa52c9"/>
<circle cx="113.7" cy="51.8" r="2.7" fill="#fa52c9"/>
<circle cx="99.0" cy="53.7" r="2.7" fill="#fa52c9"/>
<circle cx="104.4" cy="54.9" r="2.7" fill="#fa52c9"/>
<circle cx="110.2" cy="55.3" r="2.7" fill="#fa52c9"/>
<circle cx="123.7" cy="52.9" r="2.7" fill="#fa52c9"/>
<circle cx="126.8" cy="52.9" r="2.7" fill="#fa52c9"/>
<circle cx="103.6" cy="58.0" r="2.7" fill="#fa52c9"/>
<circle cx="113.3" cy="57.2" r="2.7" fill="#fa52c9"/>
<circle cx="117.5" cy="57.6" r="2.7" fill="#fa52c9"/>
<circle cx="123.0" cy="58.4" r="2.7" fill="#fa52c9"/>
<circle cx="97.4" cy="60.2" r="2.7" fill="#fa52c9"/>
<circle cx="109.0" cy="59.9" r="2.7" fill="#fa52c9"/>
<circle cx="128.6" cy="62.2" r="2.7" fill="#fa52c9"/>
<circle cx="97.1" cy="64.9" r="2.7" fill="#fa52c9"/>
<circle cx="99.0" cy="71.5" r="2.7" fill="#fa52c9"/>
<circle cx="131.3" cy="69.1" r="2.7" fill="#fa52c9"/>
<circle cx="135.1" cy="8.4" r="2.7" fill="#fa52c9"/>
<circle cx="127.4" cy="18.7" r="2.7" fill="#fa52c9"/>
<circle cx="156.6" cy="24.1" r="2.7" fill="#fa52c9"/>
<circle cx="119.4" cy="29.2" r="2.7" fill="#fa52c9"/>
<circle cx="133.9" cy="27.8" r="2.7" fill="#fa52c9"/>
<circle cx="146.6" cy="28.6" r="2.7" fill="#fa52c9"/>
<circle cx="128.4" cy="33.8" r="2.7" fill="#fa52c9"/>
<circle cx="135.3" cy="35.4" r="2.7" fill="#fa52c9"/>
<circle cx="105.7" cy="34.3" r="2.7" fill="#fa52c9"/>
<circle cx="92.6" cy="61.3" r="2.7" fill="#fa52c9"/>
<circle cx="117.2" cy="45.1" r="2.7" fill="#fa52c9"/>
<circle cx="36.2" cy="76.7" r="2.7" fill="#8cf01e"/>
</g>
<rect x="0" y="0" width="171.3" height="119.3" fill="none" stroke="#484848" stroke-width="1.25"/>
<path d="M16.8,0 v-1.8 M16.8,119.3 v1.8 M44.7,0 v-1.8 M44.7,119.3 v1.8 M72.6,0 v-1.8 M72.6,119.3 v1.8 M100.5,0 v-1.8 M100.5,119.3 v1.8 M128.4,0 v-1.8 M128.4,119.3 v1.8 M156.3,0 v-1.8 M156.3,119.3 v1.8 M0,17.3 h-1.8 M171.3,17.3 h1.8 M0,44.7 h-1.8 M171.3,44.7 h1.8 M0,72.1 h-1.8 M171.3,72.1 h1.8 M0,99.5 h-1.8 M171.3,99.5 h1.8" stroke="#3a3a3a" stroke-width="0.9" fill="none"/>
<text x="86.5" y="-2.6" font-size="10.4" letter-spacing="0.15" text-anchor="middle">EOST ERA Interim</text>
</g>
<g transform="translate(19.2,150.1)">
<g clip-path="url(#cp)">
<use href="#map"/>
<circle cx="14.7" cy="40.9" r="2.7" fill="#fa52c9"/>
<circle cx="81.9" cy="87.8" r="2.7" fill="#ffd60f"/>
<circle cx="117.9" cy="73.0" r="2.7" fill="#12f0e8"/>
<circle cx="65.5" cy="76.1" r="2.7" fill="#14f014"/>
<circle cx="68.0" cy="86.3" r="2.7" fill="#8cf01e"/>
<circle cx="81.2" cy="92.5" r="2.7" fill="#8cf01e"/>
<circle cx="78.8" cy="100.2" r="2.7" fill="#8cf01e"/>
<circle cx="143.3" cy="34.5" r="2.7" fill="#8cf01e"/>
<circle cx="103.8" cy="90.5" r="2.7" fill="#8cf01e"/>
<circle cx="109.7" cy="91.2" r="2.7" fill="#8cf01e"/>
<circle cx="118.7" cy="90.5" r="2.7" fill="#8cf01e"/>
<circle cx="98.1" cy="95.6" r="2.7" fill="#8cf01e"/>
<circle cx="107.0" cy="108.3" r="2.7" fill="#8cf01e"/>
<circle cx="3.5" cy="50.6" r="2.7" fill="#ffd60f"/>
<circle cx="17.1" cy="65.9" r="2.7" fill="#ffd60f"/>
<circle cx="28.5" cy="72.7" r="2.7" fill="#ffd60f"/>
<circle cx="37.0" cy="73.7" r="2.7" fill="#ffd60f"/>
<circle cx="41.5" cy="74.1" r="2.7" fill="#ffd60f"/>
<circle cx="47.8" cy="74.0" r="2.7" fill="#ffd60f"/>
<circle cx="73.0" cy="49.5" r="2.7" fill="#ffd60f"/>
<circle cx="78.1" cy="57.6" r="2.7" fill="#ffd60f"/>
<circle cx="88.5" cy="59.1" r="2.7" fill="#ffd60f"/>
<circle cx="74.6" cy="64.1" r="2.7" fill="#ffd60f"/>
<circle cx="64.5" cy="69.1" r="2.7" fill="#ffd60f"/>
<circle cx="74.2" cy="68.4" r="2.7" fill="#ffd60f"/>
<circle cx="79.2" cy="69.5" r="2.7" fill="#ffd60f"/>
<circle cx="83.9" cy="68.4" r="2.7" fill="#ffd60f"/>
<circle cx="73.4" cy="72.2" r="2.7" fill="#ffd60f"/>
<circle cx="72.3" cy="74.6" r="2.7" fill="#ffd60f"/>
<circle cx="78.5" cy="74.9" r="2.7" fill="#ffd60f"/>
<circle cx="87.7" cy="74.9" r="2.7" fill="#ffd60f"/>
<circle cx="71.5" cy="78.4" r="2.7" fill="#ffd60f"/>
<circle cx="76.9" cy="78.8" r="2.7" fill="#ffd60f"/>
<circle cx="82.3" cy="81.3" r="2.7" fill="#ffd60f"/>
<circle cx="91.0" cy="81.9" r="2.7" fill="#ffd60f"/>
<circle cx="69.9" cy="81.9" r="2.7" fill="#ffd60f"/>
<circle cx="75.4" cy="81.7" r="2.7" fill="#ffd60f"/>
<circle cx="86.8" cy="82.0" r="2.7" fill="#ffd60f"/>
<circle cx="64.9" cy="84.7" r="2.7" fill="#ffd60f"/>
<circle cx="77.7" cy="84.7" r="2.7" fill="#ffd60f"/>
<circle cx="66.1" cy="89.0" r="2.7" fill="#ffd60f"/>
<circle cx="77.7" cy="88.6" r="2.7" fill="#ffd60f"/>
<circle cx="84.6" cy="90.5" r="2.7" fill="#ffd60f"/>
<circle cx="72.3" cy="94.0" r="2.7" fill="#ffd60f"/>
<circle cx="66.2" cy="97.6" r="2.7" fill="#ffd60f"/>
<circle cx="86.2" cy="104.2" r="2.7" fill="#ffd60f"/>
<circle cx="109.4" cy="43.5" r="2.7" fill="#ffd60f"/>
<circle cx="133.1" cy="46.7" r="2.7" fill="#ffd60f"/>
<circle cx="112.5" cy="70.7" r="2.7" fill="#ffd60f"/>
<circle cx="122.7" cy="87.6" r="2.7" fill="#ffd60f"/>
<circle cx="101.6" cy="96.8" r="2.7" fill="#ffd60f"/>
<circle cx="100.2" cy="99.9" r="2.7" fill="#ffd60f"/>
<circle cx="99.3" cy="103.1" r="2.7" fill="#ffd60f"/>
<circle cx="98.9" cy="105.8" r="2.7" fill="#ffd60f"/>
<circle cx="27.1" cy="47.1" r="2.7" fill="#ff9ef2"/>
<circle cx="95.9" cy="40.6" r="2.7" fill="#ff9ef2"/>
<circle cx="87.3" cy="46.8" r="2.7" fill="#ff9ef2"/>
<circle cx="39.5" cy="22.6" r="2.7" fill="#fd5226"/>
<circle cx="21.1" cy="33.2" r="2.7" fill="#fd5226"/>
<circle cx="17.8" cy="37.0" r="2.7" fill="#fd5226"/>
<circle cx="3.5" cy="45.2" r="2.7" fill="#fd5226"/>
<circle cx="57.8" cy="55.2" r="2.7" fill="#fd5226"/>
<circle cx="16.2" cy="63.0" r="2.7" fill="#fd5226"/>
<circle cx="28.3" cy="65.9" r="2.7" fill="#fd5226"/>
<circle cx="20.9" cy="70.2" r="2.7" fill="#fd5226"/>
<circle cx="50.4" cy="67.9" r="2.7" fill="#fd5226"/>
<circle cx="47.7" cy="71.0" r="2.7" fill="#fd5226"/>
<circle cx="92.2" cy="41.5" r="2.7" fill="#fd5226"/>
<circle cx="90.1" cy="47.9" r="2.7" fill="#fd5226"/>
<circle cx="64.9" cy="51.4" r="2.7" fill="#fd5226"/>
<circle cx="76.9" cy="51.0" r="2.7" fill="#fd5226"/>
<circle cx="77.7" cy="54.1" r="2.7" fill="#fd5226"/>
<circle cx="82.7" cy="55.3" r="2.7" fill="#fd5226"/>
<circle cx="73.0" cy="59.5" r="2.7" fill="#fd5226"/>
<circle cx="78.5" cy="61.0" r="2.7" fill="#fd5226"/>
<circle cx="85.8" cy="62.6" r="2.7" fill="#fd5226"/>
<circle cx="82.3" cy="64.9" r="2.7" fill="#fd5226"/>
<circle cx="64.1" cy="64.0" r="2.7" fill="#fd5226"/>
<circle cx="88.5" cy="66.0" r="2.7" fill="#fd5226"/>
<circle cx="71.5" cy="67.6" r="2.7" fill="#fd5226"/>
<circle cx="81.5" cy="72.6" r="2.7" fill="#fd5226"/>
<circle cx="83.9" cy="75.3" r="2.7" fill="#fd5226"/>
<circle cx="85.4" cy="78.0" r="2.7" fill="#fd5226"/>
<circle cx="73.0" cy="89.4" r="2.7" fill="#fd5226"/>
<circle cx="75.4" cy="92.5" r="2.7" fill="#fd5226"/>
<circle cx="100.1" cy="42.9" r="2.7" fill="#fd5226"/>
<circle cx="130.3" cy="42.5" r="2.7" fill="#fd5226"/>
<circle cx="119.1" cy="49.5" r="2.7" fill="#fd5226"/>
<circle cx="132.0" cy="50.9" r="2.7" fill="#fd5226"/>
<circle cx="129.1" cy="55.3" r="2.7" fill="#fd5226"/>
<circle cx="126.8" cy="59.1" r="2.7" fill="#fd5226"/>
<circle cx="111.7" cy="64.5" r="2.7" fill="#fd5226"/>
<circle cx="138.6" cy="15.2" r="2.7" fill="#fd5226"/>
<circle cx="145.4" cy="20.5" r="2.7" fill="#fd5226"/>
<circle cx="167.7" cy="21.4" r="2.7" fill="#fd5226"/>
<circle cx="138.2" cy="31.7" r="2.7" fill="#fd5226"/>
<circle cx="158.4" cy="32.2" r="2.7" fill="#fd5226"/>
<circle cx="154.5" cy="36.6" r="2.7" fill="#fd5226"/>
<circle cx="150.5" cy="37.7" r="2.7" fill="#fd5226"/>
<circle cx="138.5" cy="39.3" r="2.7" fill="#fd5226"/>
<circle cx="135.8" cy="42.4" r="2.7" fill="#fd5226"/>
<circle cx="140.5" cy="44.4" r="2.7" fill="#fd5226"/>
<circle cx="135.4" cy="52.5" r="2.7" fill="#fd5226"/>
<circle cx="24.8" cy="25.5" r="2.7" fill="#fa52c9"/>
<circle cx="35.7" cy="23.0" r="2.7" fill="#fa52c9"/>
<circle cx="43.2" cy="25.1" r="2.7" fill="#fa52c9"/>
<circle cx="47.5" cy="27.6" r="2.7" fill="#fa52c9"/>
<circle cx="19.6" cy="30.1" r="2.7" fill="#fa52c9"/>
<circle cx="30.4" cy="28.8" r="2.7" fill="#fa52c9"/>
<circle cx="30.2" cy="32.5" r="2.7" fill="#fa52c9"/>
<circle cx="33.9" cy="32.5" r="2.7" fill="#fa52c9"/>
<circle cx="38.2" cy="33.4" r="2.7" fill="#fa52c9"/>
<circle cx="45.3" cy="33.2" r="2.7" fill="#fa52c9"/>
<circle cx="25.8" cy="35.2" r="2.7" fill="#fa52c9"/>
<circle cx="35.7" cy="35.9" r="2.7" fill="#fa52c9"/>
<circle cx="45.4" cy="36.4" r="2.7" fill="#fa52c9"/>
<circle cx="56.2" cy="36.5" r="2.7" fill="#fa52c9"/>
<circle cx="25.2" cy="39.7" r="2.7" fill="#fa52c9"/>
<circle cx="33.9" cy="39.7" r="2.7" fill="#fa52c9"/>
<circle cx="13.4" cy="45.2" r="2.7" fill="#fa52c9"/>
<circle cx="32.3" cy="49.8" r="2.7" fill="#fa52c9"/>
<circle cx="39.5" cy="47.1" r="2.7" fill="#fa52c9"/>
<circle cx="46.9" cy="48.7" r="2.7" fill="#fa52c9"/>
<circle cx="54.0" cy="48.0" r="2.7" fill="#fa52c9"/>
<circle cx="57.6" cy="44.0" r="2.7" fill="#fa52c9"/>
<circle cx="75.4" cy="39.0" r="2.7" fill="#fa52c9"/>
<circle cx="72.7" cy="41.7" r="2.7" fill="#fa52c9"/>
<circle cx="61.1" cy="42.9" r="2.7" fill="#fa52c9"/>
<circle cx="67.6" cy="44.8" r="2.7" fill="#fa52c9"/>
<circle cx="71.9" cy="45.2" r="2.7" fill="#fa52c9"/>
<circle cx="77.3" cy="46.8" r="2.7" fill="#fa52c9"/>
<circle cx="81.4" cy="48.1" r="2.7" fill="#fa52c9"/>
<circle cx="87.0" cy="51.0" r="2.7" fill="#fa52c9"/>
<circle cx="93.1" cy="50.6" r="2.7" fill="#fa52c9"/>
<circle cx="67.2" cy="54.1" r="2.7" fill="#fa52c9"/>
<circle cx="72.7" cy="52.9" r="2.7" fill="#fa52c9"/>
<circle cx="67.6" cy="58.4" r="2.7" fill="#fa52c9"/>
<circle cx="83.9" cy="59.1" r="2.7" fill="#fa52c9"/>
<circle cx="88.5" cy="54.9" r="2.7" fill="#fa52c9"/>
<circle cx="92.4" cy="55.6" r="2.7" fill="#fa52c9"/>
<circle cx="95.5" cy="57.6" r="2.7" fill="#fa52c9"/>
<circle cx="90.8" cy="63.3" r="2.7" fill="#fa52c9"/>
<circle cx="104.0" cy="43.5" r="2.7" fill="#fa52c9"/>
<circle cx="116.8" cy="38.2" r="2.7" fill="#fa52c9"/>
<circle cx="114.1" cy="41.7" r="2.7" fill="#fa52c9"/>
<circle cx="122.6" cy="41.3" r="2.7" fill="#fa52c9"/>
<circle cx="111.4" cy="46.4" r="2.7" fill="#fa52c9"/>
<circle cx="104.8" cy="47.5" r="2.7" fill="#fa52c9"/>
<circle cx="120.0" cy="46.0" r="2.7" fill="#fa52c9"/>
<circle cx="123.7" cy="45.2" r="2.7" fill="#fa52c9"/>
<circle cx="108.3" cy="51.0" r="2.7" fill="#fa52c9"/>
<circle cx="113.7" cy="51.8" r="2.7" fill="#fa52c9"/>
<circle cx="99.0" cy="53.7" r="2.7" fill="#fa52c9"/>
<circle cx="104.4" cy="54.9" r="2.7" fill="#fa52c9"/>
<circle cx="110.2" cy="55.3" r="2.7" fill="#fa52c9"/>
<circle cx="120.3" cy="54.9" r="2.7" fill="#fa52c9"/>
<circle cx="123.7" cy="52.9" r="2.7" fill="#fa52c9"/>
<circle cx="126.8" cy="52.9" r="2.7" fill="#fa52c9"/>
<circle cx="103.6" cy="58.0" r="2.7" fill="#fa52c9"/>
<circle cx="113.3" cy="57.2" r="2.7" fill="#fa52c9"/>
<circle cx="117.5" cy="57.6" r="2.7" fill="#fa52c9"/>
<circle cx="123.0" cy="58.4" r="2.7" fill="#fa52c9"/>
<circle cx="97.4" cy="60.2" r="2.7" fill="#fa52c9"/>
<circle cx="109.0" cy="59.9" r="2.7" fill="#fa52c9"/>
<circle cx="128.6" cy="62.2" r="2.7" fill="#fa52c9"/>
<circle cx="97.1" cy="64.9" r="2.7" fill="#fa52c9"/>
<circle cx="99.0" cy="71.5" r="2.7" fill="#fa52c9"/>
<circle cx="131.3" cy="69.1" r="2.7" fill="#fa52c9"/>
<circle cx="135.1" cy="8.4" r="2.7" fill="#fa52c9"/>
<circle cx="127.4" cy="18.7" r="2.7" fill="#fa52c9"/>
<circle cx="156.6" cy="24.1" r="2.7" fill="#fa52c9"/>
<circle cx="119.4" cy="29.2" r="2.7" fill="#fa52c9"/>
<circle cx="133.9" cy="27.8" r="2.7" fill="#fa52c9"/>
<circle cx="146.6" cy="28.6" r="2.7" fill="#fa52c9"/>
<circle cx="128.4" cy="33.8" r="2.7" fill="#fa52c9"/>
<circle cx="135.3" cy="35.4" r="2.7" fill="#fa52c9"/>
<circle cx="105.7" cy="34.3" r="2.7" fill="#fa52c9"/>
<circle cx="92.6" cy="61.3" r="2.7" fill="#fa52c9"/>
<circle cx="117.2" cy="45.1" r="2.7" fill="#fa52c9"/>
<circle cx="36.2" cy="76.7" r="2.7" fill="#8cf01e"/>
</g>
<rect x="0" y="0" width="171.3" height="119.3" fill="none" stroke="#484848" stroke-width="1.25"/>
<path d="M16.8,0 v-1.8 M16.8,119.3 v1.8 M44.7,0 v-1.8 M44.7,119.3 v1.8 M72.6,0 v-1.8 M72.6,119.3 v1.8 M100.5,0 v-1.8 M100.5,119.3 v1.8 M128.4,0 v-1.8 M128.4,119.3 v1.8 M156.3,0 v-1.8 M156.3,119.3 v1.8 M0,17.3 h-1.8 M171.3,17.3 h1.8 M0,44.7 h-1.8 M171.3,44.7 h1.8 M0,72.1 h-1.8 M171.3,72.1 h1.8 M0,99.5 h-1.8 M171.3,99.5 h1.8" stroke="#3a3a3a" stroke-width="0.9" fill="none"/>
<text x="86.5" y="-2.8" font-size="10.4" letter-spacing="0.15" text-anchor="middle">GFZ ECWMF</text>
<text x="-5.1" y="20.3" font-size="8.8" text-anchor="end">50</text><text x="-4.9" y="17.6" font-size="4.6">°</text>
<text x="-5.1" y="47.7" font-size="8.8" text-anchor="end">40</text><text x="-4.9" y="45.0" font-size="4.6">°</text>
<text x="-5.1" y="75.1" font-size="8.8" text-anchor="end">30</text><text x="-4.9" y="72.4" font-size="4.6">°</text>
<text x="-5.1" y="102.5" font-size="8.8" text-anchor="end">20</text><text x="-4.9" y="99.8" font-size="4.6">°</text>
<text x="17.4" y="128.8" font-size="8.8" text-anchor="middle">80<tspan font-size="4.6" dy="-3.0">°</tspan></text>
<text x="45.3" y="128.8" font-size="8.8" text-anchor="middle">90<tspan font-size="4.6" dy="-3.0">°</tspan></text>
<text x="73.2" y="128.8" font-size="8.8" text-anchor="middle">100<tspan font-size="4.6" dy="-3.0">°</tspan></text>
<text x="101.1" y="128.8" font-size="8.8" text-anchor="middle">110<tspan font-size="4.6" dy="-3.0">°</tspan></text>
<text x="129.0" y="128.8" font-size="8.8" text-anchor="middle">120<tspan font-size="4.6" dy="-3.0">°</tspan></text>
<text x="156.9" y="128.8" font-size="8.8" text-anchor="middle">130<tspan font-size="4.6" dy="-3.0">°</tspan></text>
</g>
<g transform="translate(195.1,150.1)">
<g clip-path="url(#cp)">
<use href="#map"/>
<circle cx="14.7" cy="40.9" r="2.7" fill="#fd5226"/>
<circle cx="81.9" cy="87.8" r="2.7" fill="#fd5226"/>
<circle cx="117.9" cy="73.0" r="2.7" fill="#12f0e8"/>
<circle cx="65.5" cy="76.1" r="2.7" fill="#14f014"/>
<circle cx="68.0" cy="86.3" r="2.7" fill="#8cf01e"/>
<circle cx="81.2" cy="92.5" r="2.7" fill="#8cf01e"/>
<circle cx="143.3" cy="34.5" r="2.7" fill="#8cf01e"/>
<circle cx="103.8" cy="90.5" r="2.7" fill="#8cf01e"/>
<circle cx="109.7" cy="91.2" r="2.7" fill="#8cf01e"/>
<circle cx="118.7" cy="90.5" r="2.7" fill="#8cf01e"/>
<circle cx="98.1" cy="95.6" r="2.7" fill="#8cf01e"/>
<circle cx="107.0" cy="108.3" r="2.7" fill="#8cf01e"/>
<circle cx="3.5" cy="50.6" r="2.7" fill="#ffd60f"/>
<circle cx="17.1" cy="65.9" r="2.7" fill="#ffd60f"/>
<circle cx="28.5" cy="72.7" r="2.7" fill="#ffd60f"/>
<circle cx="37.0" cy="73.7" r="2.7" fill="#ffd60f"/>
<circle cx="41.5" cy="74.1" r="2.7" fill="#ffd60f"/>
<circle cx="47.8" cy="74.0" r="2.7" fill="#ffd60f"/>
<circle cx="78.1" cy="57.6" r="2.7" fill="#ffd60f"/>
<circle cx="88.5" cy="59.1" r="2.7" fill="#ffd60f"/>
<circle cx="64.5" cy="69.1" r="2.7" fill="#ffd60f"/>
<circle cx="74.2" cy="68.4" r="2.7" fill="#ffd60f"/>
<circle cx="79.2" cy="69.5" r="2.7" fill="#ffd60f"/>
<circle cx="83.9" cy="68.4" r="2.7" fill="#ffd60f"/>
<circle cx="73.4" cy="72.2" r="2.7" fill="#ffd60f"/>
<circle cx="72.3" cy="74.6" r="2.7" fill="#ffd60f"/>
<circle cx="78.5" cy="74.9" r="2.7" fill="#ffd60f"/>
<circle cx="87.7" cy="74.9" r="2.7" fill="#ffd60f"/>
<circle cx="71.5" cy="78.4" r="2.7" fill="#ffd60f"/>
<circle cx="82.3" cy="81.3" r="2.7" fill="#ffd60f"/>
<circle cx="91.0" cy="81.9" r="2.7" fill="#ffd60f"/>
<circle cx="69.9" cy="81.9" r="2.7" fill="#ffd60f"/>
<circle cx="75.4" cy="81.7" r="2.7" fill="#ffd60f"/>
<circle cx="64.9" cy="84.7" r="2.7" fill="#ffd60f"/>
<circle cx="77.7" cy="84.7" r="2.7" fill="#ffd60f"/>
<circle cx="66.1" cy="89.0" r="2.7" fill="#ffd60f"/>
<circle cx="77.7" cy="88.6" r="2.7" fill="#ffd60f"/>
<circle cx="84.6" cy="90.5" r="2.7" fill="#ffd60f"/>
<circle cx="72.3" cy="94.0" r="2.7" fill="#ffd60f"/>
<circle cx="66.2" cy="97.6" r="2.7" fill="#ffd60f"/>
<circle cx="78.8" cy="100.2" r="2.7" fill="#ffd60f"/>
<circle cx="86.2" cy="104.2" r="2.7" fill="#ffd60f"/>
<circle cx="109.4" cy="43.5" r="2.7" fill="#ffd60f"/>
<circle cx="133.1" cy="46.7" r="2.7" fill="#ffd60f"/>
<circle cx="112.5" cy="70.7" r="2.7" fill="#ffd60f"/>
<circle cx="122.7" cy="87.6" r="2.7" fill="#ffd60f"/>
<circle cx="101.6" cy="96.8" r="2.7" fill="#ffd60f"/>
<circle cx="100.2" cy="99.9" r="2.7" fill="#ffd60f"/>
<circle cx="99.3" cy="103.1" r="2.7" fill="#ffd60f"/>
<circle cx="98.9" cy="105.8" r="2.7" fill="#ffd60f"/>
<circle cx="27.1" cy="47.1" r="2.7" fill="#ff9ef2"/>
<circle cx="95.9" cy="40.6" r="2.7" fill="#ff9ef2"/>
<circle cx="87.3" cy="46.8" r="2.7" fill="#ff9ef2"/>
<circle cx="39.5" cy="22.6" r="2.7" fill="#fd5226"/>
<circle cx="21.1" cy="33.2" r="2.7" fill="#fd5226"/>
<circle cx="17.8" cy="37.0" r="2.7" fill="#fd5226"/>
<circle cx="3.5" cy="45.2" r="2.7" fill="#fd5226"/>
<circle cx="57.8" cy="55.2" r="2.7" fill="#fd5226"/>
<circle cx="16.2" cy="63.0" r="2.7" fill="#fd5226"/>
<circle cx="28.3" cy="65.9" r="2.7" fill="#fd5226"/>
<circle cx="20.9" cy="70.2" r="2.7" fill="#fd5226"/>
<circle cx="50.4" cy="67.9" r="2.7" fill="#fd5226"/>
<circle cx="47.7" cy="71.0" r="2.7" fill="#fd5226"/>
<circle cx="92.2" cy="41.5" r="2.7" fill="#fd5226"/>
<circle cx="90.1" cy="47.9" r="2.7" fill="#fd5226"/>
<circle cx="64.9" cy="51.4" r="2.7" fill="#fd5226"/>
<circle cx="73.0" cy="49.5" r="2.7" fill="#fd5226"/>
<circle cx="76.9" cy="51.0" r="2.7" fill="#fd5226"/>
<circle cx="77.7" cy="54.1" r="2.7" fill="#fd5226"/>
<circle cx="82.7" cy="55.3" r="2.7" fill="#fd5226"/>
<circle cx="73.0" cy="59.5" r="2.7" fill="#fd5226"/>
<circle cx="85.8" cy="62.6" r="2.7" fill="#fd5226"/>
<circle cx="82.3" cy="64.9" r="2.7" fill="#fd5226"/>
<circle cx="64.1" cy="64.0" r="2.7" fill="#fd5226"/>
<circle cx="74.6" cy="64.1" r="2.7" fill="#fd5226"/>
<circle cx="88.5" cy="66.0" r="2.7" fill="#fd5226"/>
<circle cx="71.5" cy="67.6" r="2.7" fill="#fd5226"/>
<circle cx="81.5" cy="72.6" r="2.7" fill="#fd5226"/>
<circle cx="83.9" cy="75.3" r="2.7" fill="#fd5226"/>
<circle cx="85.4" cy="78.0" r="2.7" fill="#fd5226"/>
<circle cx="76.9" cy="78.8" r="2.7" fill="#fd5226"/>
<circle cx="86.8" cy="82.0" r="2.7" fill="#fd5226"/>
<circle cx="73.0" cy="89.4" r="2.7" fill="#fd5226"/>
<circle cx="75.4" cy="92.5" r="2.7" fill="#fd5226"/>
<circle cx="100.1" cy="42.9" r="2.7" fill="#fd5226"/>
<circle cx="130.3" cy="42.5" r="2.7" fill="#fd5226"/>
<circle cx="119.1" cy="49.5" r="2.7" fill="#fd5226"/>
<circle cx="132.0" cy="50.9" r="2.7" fill="#fd5226"/>
<circle cx="129.1" cy="55.3" r="2.7" fill="#fd5226"/>
<circle cx="126.8" cy="59.1" r="2.7" fill="#fd5226"/>
<circle cx="111.7" cy="64.5" r="2.7" fill="#fd5226"/>
<circle cx="138.6" cy="15.2" r="2.7" fill="#fd5226"/>
<circle cx="145.4" cy="20.5" r="2.7" fill="#fd5226"/>
<circle cx="167.7" cy="21.4" r="2.7" fill="#fd5226"/>
<circle cx="138.2" cy="31.7" r="2.7" fill="#fd5226"/>
<circle cx="158.4" cy="32.2" r="2.7" fill="#fd5226"/>
<circle cx="154.5" cy="36.6" r="2.7" fill="#fd5226"/>
<circle cx="150.5" cy="37.7" r="2.7" fill="#fd5226"/>
<circle cx="138.5" cy="39.3" r="2.7" fill="#fd5226"/>
<circle cx="135.8" cy="42.4" r="2.7" fill="#fd5226"/>
<circle cx="140.5" cy="44.4" r="2.7" fill="#fd5226"/>
<circle cx="135.4" cy="52.5" r="2.7" fill="#fd5226"/>
<circle cx="24.8" cy="25.5" r="2.7" fill="#fa52c9"/>
<circle cx="35.7" cy="23.0" r="2.7" fill="#fa52c9"/>
<circle cx="43.2" cy="25.1" r="2.7" fill="#fa52c9"/>
<circle cx="47.5" cy="27.6" r="2.7" fill="#fa52c9"/>
<circle cx="19.6" cy="30.1" r="2.7" fill="#fa52c9"/>
<circle cx="30.4" cy="28.8" r="2.7" fill="#fa52c9"/>
<circle cx="30.2" cy="32.5" r="2.7" fill="#fa52c9"/>
<circle cx="33.9" cy="32.5" r="2.7" fill="#fa52c9"/>
<circle cx="38.2" cy="33.4" r="2.7" fill="#fa52c9"/>
<circle cx="45.3" cy="33.2" r="2.7" fill="#fa52c9"/>
<circle cx="25.8" cy="35.2" r="2.7" fill="#fa52c9"/>
<circle cx="35.7" cy="35.9" r="2.7" fill="#fa52c9"/>
<circle cx="45.4" cy="36.4" r="2.7" fill="#fa52c9"/>
<circle cx="56.2" cy="36.5" r="2.7" fill="#fa52c9"/>
<circle cx="25.2" cy="39.7" r="2.7" fill="#fa52c9"/>
<circle cx="33.9" cy="39.7" r="2.7" fill="#fa52c9"/>
<circle cx="13.4" cy="45.2" r="2.7" fill="#fa52c9"/>
<circle cx="32.3" cy="49.8" r="2.7" fill="#fa52c9"/>
<circle cx="39.5" cy="47.1" r="2.7" fill="#fa52c9"/>
<circle cx="46.9" cy="48.7" r="2.7" fill="#fa52c9"/>
<circle cx="54.0" cy="48.0" r="2.7" fill="#fa52c9"/>
<circle cx="57.6" cy="44.0" r="2.7" fill="#fa52c9"/>
<circle cx="75.4" cy="39.0" r="2.7" fill="#fa52c9"/>
<circle cx="72.7" cy="41.7" r="2.7" fill="#fa52c9"/>
<circle cx="61.1" cy="42.9" r="2.7" fill="#fa52c9"/>
<circle cx="67.6" cy="44.8" r="2.7" fill="#fa52c9"/>
<circle cx="71.9" cy="45.2" r="2.7" fill="#fa52c9"/>
<circle cx="77.3" cy="46.8" r="2.7" fill="#fa52c9"/>
<circle cx="81.4" cy="48.1" r="2.7" fill="#fa52c9"/>
<circle cx="87.0" cy="51.0" r="2.7" fill="#fa52c9"/>
<circle cx="93.1" cy="50.6" r="2.7" fill="#fa52c9"/>
<circle cx="67.2" cy="54.1" r="2.7" fill="#fa52c9"/>
<circle cx="72.7" cy="52.9" r="2.7" fill="#fa52c9"/>
<circle cx="67.6" cy="58.4" r="2.7" fill="#fa52c9"/>
<circle cx="83.9" cy="59.1" r="2.7" fill="#fa52c9"/>
<circle cx="88.5" cy="54.9" r="2.7" fill="#fa52c9"/>
<circle cx="92.4" cy="55.6" r="2.7" fill="#fa52c9"/>
<circle cx="95.5" cy="57.6" r="2.7" fill="#fa52c9"/>
<circle cx="78.5" cy="61.0" r="2.7" fill="#fa52c9"/>
<circle cx="90.8" cy="63.3" r="2.7" fill="#fa52c9"/>
<circle cx="104.0" cy="43.5" r="2.7" fill="#fa52c9"/>
<circle cx="116.8" cy="38.2" r="2.7" fill="#fa52c9"/>
<circle cx="114.1" cy="41.7" r="2.7" fill="#fa52c9"/>
<circle cx="122.6" cy="41.3" r="2.7" fill="#fa52c9"/>
<circle cx="111.4" cy="46.4" r="2.7" fill="#fa52c9"/>
<circle cx="104.8" cy="47.5" r="2.7" fill="#fa52c9"/>
<circle cx="120.0" cy="46.0" r="2.7" fill="#fa52c9"/>
<circle cx="123.7" cy="45.2" r="2.7" fill="#fa52c9"/>
<circle cx="108.3" cy="51.0" r="2.7" fill="#fa52c9"/>
<circle cx="113.7" cy="51.8" r="2.7" fill="#fa52c9"/>
<circle cx="99.0" cy="53.7" r="2.7" fill="#fa52c9"/>
<circle cx="104.4" cy="54.9" r="2.7" fill="#fa52c9"/>
<circle cx="110.2" cy="55.3" r="2.7" fill="#fa52c9"/>
<circle cx="120.3" cy="54.9" r="2.7" fill="#fa52c9"/>
<circle cx="123.7" cy="52.9" r="2.7" fill="#fa52c9"/>
<circle cx="126.8" cy="52.9" r="2.7" fill="#fa52c9"/>
<circle cx="103.6" cy="58.0" r="2.7" fill="#fa52c9"/>
<circle cx="113.3" cy="57.2" r="2.7" fill="#fa52c9"/>
<circle cx="117.5" cy="57.6" r="2.7" fill="#fa52c9"/>
<circle cx="123.0" cy="58.4" r="2.7" fill="#fa52c9"/>
<circle cx="97.4" cy="60.2" r="2.7" fill="#fa52c9"/>
<circle cx="109.0" cy="59.9" r="2.7" fill="#fa52c9"/>
<circle cx="128.6" cy="62.2" r="2.7" fill="#fa52c9"/>
<circle cx="97.1" cy="64.9" r="2.7" fill="#fa52c9"/>
<circle cx="99.0" cy="71.5" r="2.7" fill="#fa52c9"/>
<circle cx="131.3" cy="69.1" r="2.7" fill="#fa52c9"/>
<circle cx="135.1" cy="8.4" r="2.7" fill="#fa52c9"/>
<circle cx="127.4" cy="18.7" r="2.7" fill="#fa52c9"/>
<circle cx="156.6" cy="24.1" r="2.7" fill="#fa52c9"/>
<circle cx="119.4" cy="29.2" r="2.7" fill="#fa52c9"/>
<circle cx="133.9" cy="27.8" r="2.7" fill="#fa52c9"/>
<circle cx="146.6" cy="28.6" r="2.7" fill="#fa52c9"/>
<circle cx="128.4" cy="33.8" r="2.7" fill="#fa52c9"/>
<circle cx="135.3" cy="35.4" r="2.7" fill="#fa52c9"/>
<circle cx="105.7" cy="34.3" r="2.7" fill="#fa52c9"/>
<circle cx="92.6" cy="61.3" r="2.7" fill="#fa52c9"/>
<circle cx="117.2" cy="45.1" r="2.7" fill="#fa52c9"/>
<circle cx="36.2" cy="76.7" r="2.7" fill="#8cf01e"/>
</g>
<rect x="0" y="0" width="171.3" height="119.3" fill="none" stroke="#484848" stroke-width="1.25"/>
<path d="M16.8,0 v-1.8 M16.8,119.3 v1.8 M44.7,0 v-1.8 M44.7,119.3 v1.8 M72.6,0 v-1.8 M72.6,119.3 v1.8 M100.5,0 v-1.8 M100.5,119.3 v1.8 M128.4,0 v-1.8 M128.4,119.3 v1.8 M156.3,0 v-1.8 M156.3,119.3 v1.8 M0,17.3 h-1.8 M171.3,17.3 h1.8 M0,44.7 h-1.8 M171.3,44.7 h1.8 M0,72.1 h-1.8 M171.3,72.1 h1.8 M0,99.5 h-1.8 M171.3,99.5 h1.8" stroke="#3a3a3a" stroke-width="0.9" fill="none"/>
<text x="86.5" y="-2.8" font-size="10.4" letter-spacing="0.15" text-anchor="middle">NASA GEOSFPIT</text>
</g>
<g transform="translate(371.0,150.1)">
<g clip-path="url(#cp)">
<use href="#map"/>
<circle cx="14.7" cy="40.9" r="2.7" fill="#fd5226"/>
<circle cx="81.9" cy="87.8" r="2.7" fill="#fd5226"/>
<circle cx="117.9" cy="73.0" r="2.7" fill="#12f0e8"/>
<circle cx="65.5" cy="76.1" r="2.7" fill="#8cf01e"/>
<circle cx="68.0" cy="86.3" r="2.7" fill="#8cf01e"/>
<circle cx="81.2" cy="92.5" r="2.7" fill="#8cf01e"/>
<circle cx="143.3" cy="34.5" r="2.7" fill="#8cf01e"/>
<circle cx="103.8" cy="90.5" r="2.7" fill="#8cf01e"/>
<circle cx="109.7" cy="91.2" r="2.7" fill="#8cf01e"/>
<circle cx="118.7" cy="90.5" r="2.7" fill="#8cf01e"/>
<circle cx="98.1" cy="95.6" r="2.7" fill="#8cf01e"/>
<circle cx="107.0" cy="108.3" r="2.7" fill="#8cf01e"/>
<circle cx="3.5" cy="50.6" r="2.7" fill="#ffd60f"/>
<circle cx="17.1" cy="65.9" r="2.7" fill="#ffd60f"/>
<circle cx="28.5" cy="72.7" r="2.7" fill="#ffd60f"/>
<circle cx="37.0" cy="73.7" r="2.7" fill="#ffd60f"/>
<circle cx="41.5" cy="74.1" r="2.7" fill="#ffd60f"/>
<circle cx="47.8" cy="74.0" r="2.7" fill="#ffd60f"/>
<circle cx="78.1" cy="57.6" r="2.7" fill="#ffd60f"/>
<circle cx="88.5" cy="59.1" r="2.7" fill="#ffd60f"/>
<circle cx="74.2" cy="68.4" r="2.7" fill="#ffd60f"/>
<circle cx="79.2" cy="69.5" r="2.7" fill="#ffd60f"/>
<circle cx="83.9" cy="68.4" r="2.7" fill="#ffd60f"/>
<circle cx="73.4" cy="72.2" r="2.7" fill="#ffd60f"/>
<circle cx="72.3" cy="74.6" r="2.7" fill="#ffd60f"/>
<circle cx="87.7" cy="74.9" r="2.7" fill="#ffd60f"/>
<circle cx="71.5" cy="78.4" r="2.7" fill="#ffd60f"/>
<circle cx="82.3" cy="81.3" r="2.7" fill="#ffd60f"/>
<circle cx="91.0" cy="81.9" r="2.7" fill="#ffd60f"/>
<circle cx="69.9" cy="81.9" r="2.7" fill="#ffd60f"/>
<circle cx="75.4" cy="81.7" r="2.7" fill="#ffd60f"/>
<circle cx="64.9" cy="84.7" r="2.7" fill="#ffd60f"/>
<circle cx="77.7" cy="84.7" r="2.7" fill="#ffd60f"/>
<circle cx="66.1" cy="89.0" r="2.7" fill="#ffd60f"/>
<circle cx="77.7" cy="88.6" r="2.7" fill="#ffd60f"/>
<circle cx="84.6" cy="90.5" r="2.7" fill="#ffd60f"/>
<circle cx="72.3" cy="94.0" r="2.7" fill="#ffd60f"/>
<circle cx="66.2" cy="97.6" r="2.7" fill="#ffd60f"/>
<circle cx="78.8" cy="100.2" r="2.7" fill="#ffd60f"/>
<circle cx="86.2" cy="104.2" r="2.7" fill="#ffd60f"/>
<circle cx="109.4" cy="43.5" r="2.7" fill="#ffd60f"/>
<circle cx="133.1" cy="46.7" r="2.7" fill="#ffd60f"/>
<circle cx="112.5" cy="70.7" r="2.7" fill="#ffd60f"/>
<circle cx="122.7" cy="87.6" r="2.7" fill="#ffd60f"/>
<circle cx="101.6" cy="96.8" r="2.7" fill="#ffd60f"/>
<circle cx="100.2" cy="99.9" r="2.7" fill="#ffd60f"/>
<circle cx="99.3" cy="103.1" r="2.7" fill="#ffd60f"/>
<circle cx="98.9" cy="105.8" r="2.7" fill="#ffd60f"/>
<circle cx="95.9" cy="40.6" r="2.7" fill="#ff9ef2"/>
<circle cx="87.3" cy="46.8" r="2.7" fill="#ff9ef2"/>
<circle cx="39.5" cy="22.6" r="2.7" fill="#fd5226"/>
<circle cx="21.1" cy="33.2" r="2.7" fill="#fd5226"/>
<circle cx="17.8" cy="37.0" r="2.7" fill="#fd5226"/>
<circle cx="3.5" cy="45.2" r="2.7" fill="#fd5226"/>
<circle cx="57.8" cy="55.2" r="2.7" fill="#fd5226"/>
<circle cx="16.2" cy="63.0" r="2.7" fill="#fd5226"/>
<circle cx="28.3" cy="65.9" r="2.7" fill="#fd5226"/>
<circle cx="20.9" cy="70.2" r="2.7" fill="#fd5226"/>
<circle cx="50.4" cy="67.9" r="2.7" fill="#fd5226"/>
<circle cx="47.7" cy="71.0" r="2.7" fill="#fd5226"/>
<circle cx="92.2" cy="41.5" r="2.7" fill="#fd5226"/>
<circle cx="90.1" cy="47.9" r="2.7" fill="#fd5226"/>
<circle cx="64.9" cy="51.4" r="2.7" fill="#fd5226"/>
<circle cx="73.0" cy="49.5" r="2.7" fill="#fd5226"/>
<circle cx="76.9" cy="51.0" r="2.7" fill="#fd5226"/>
<circle cx="77.7" cy="54.1" r="2.7" fill="#fd5226"/>
<circle cx="82.7" cy="55.3" r="2.7" fill="#fd5226"/>
<circle cx="73.0" cy="59.5" r="2.7" fill="#fd5226"/>
<circle cx="85.8" cy="62.6" r="2.7" fill="#fd5226"/>
<circle cx="82.3" cy="64.9" r="2.7" fill="#fd5226"/>
<circle cx="64.1" cy="64.0" r="2.7" fill="#fd5226"/>
<circle cx="74.6" cy="64.1" r="2.7" fill="#fd5226"/>
<circle cx="88.5" cy="66.0" r="2.7" fill="#fd5226"/>
<circle cx="64.5" cy="69.1" r="2.7" fill="#fd5226"/>
<circle cx="71.5" cy="67.6" r="2.7" fill="#fd5226"/>
<circle cx="81.5" cy="72.6" r="2.7" fill="#fd5226"/>
<circle cx="78.5" cy="74.9" r="2.7" fill="#fd5226"/>
<circle cx="83.9" cy="75.3" r="2.7" fill="#fd5226"/>
<circle cx="85.4" cy="78.0" r="2.7" fill="#fd5226"/>
<circle cx="76.9" cy="78.8" r="2.7" fill="#fd5226"/>
<circle cx="86.8" cy="82.0" r="2.7" fill="#fd5226"/>
<circle cx="73.0" cy="89.4" r="2.7" fill="#fd5226"/>
<circle cx="75.4" cy="92.5" r="2.7" fill="#fd5226"/>
<circle cx="100.1" cy="42.9" r="2.7" fill="#fd5226"/>
<circle cx="130.3" cy="42.5" r="2.7" fill="#fd5226"/>
<circle cx="119.1" cy="49.5" r="2.7" fill="#fd5226"/>
<circle cx="132.0" cy="50.9" r="2.7" fill="#fd5226"/>
<circle cx="129.1" cy="55.3" r="2.7" fill="#fd5226"/>
<circle cx="126.8" cy="59.1" r="2.7" fill="#fd5226"/>
<circle cx="111.7" cy="64.5" r="2.7" fill="#fd5226"/>
<circle cx="138.6" cy="15.2" r="2.7" fill="#fd5226"/>
<circle cx="145.4" cy="20.5" r="2.7" fill="#fd5226"/>
<circle cx="156.6" cy="24.1" r="2.7" fill="#fd5226"/>
<circle cx="167.7" cy="21.4" r="2.7" fill="#fd5226"/>
<circle cx="138.2" cy="31.7" r="2.7" fill="#fd5226"/>
<circle cx="158.4" cy="32.2" r="2.7" fill="#fd5226"/>
<circle cx="154.5" cy="36.6" r="2.7" fill="#fd5226"/>
<circle cx="150.5" cy="37.7" r="2.7" fill="#fd5226"/>
<circle cx="138.5" cy="39.3" r="2.7" fill="#fd5226"/>
<circle cx="135.8" cy="42.4" r="2.7" fill="#fd5226"/>
<circle cx="140.5" cy="44.4" r="2.7" fill="#fd5226"/>
<circle cx="135.4" cy="52.5" r="2.7" fill="#fd5226"/>
<circle cx="92.6" cy="61.3" r="2.7" fill="#fd5226"/>
<circle cx="24.8" cy="25.5" r="2.7" fill="#fa52c9"/>
<circle cx="35.7" cy="23.0" r="2.7" fill="#fa52c9"/>
<circle cx="43.2" cy="25.1" r="2.7" fill="#fa52c9"/>
<circle cx="47.5" cy="27.6" r="2.7" fill="#fa52c9"/>
<circle cx="19.6" cy="30.1" r="2.7" fill="#fa52c9"/>
<circle cx="30.4" cy="28.8" r="2.7" fill="#fa52c9"/>
<circle cx="30.2" cy="32.5" r="2.7" fill="#fa52c9"/>
<circle cx="33.9" cy="32.5" r="2.7" fill="#fa52c9"/>
<circle cx="38.2" cy="33.4" r="2.7" fill="#fa52c9"/>
<circle cx="45.3" cy="33.2" r="2.7" fill="#fa52c9"/>
<circle cx="25.8" cy="35.2" r="2.7" fill="#fa52c9"/>
<circle cx="35.7" cy="35.9" r="2.7" fill="#fa52c9"/>
<circle cx="45.4" cy="36.4" r="2.7" fill="#fa52c9"/>
<circle cx="56.2" cy="36.5" r="2.7" fill="#fa52c9"/>
<circle cx="25.2" cy="39.7" r="2.7" fill="#fa52c9"/>
<circle cx="33.9" cy="39.7" r="2.7" fill="#fa52c9"/>
<circle cx="13.4" cy="45.2" r="2.7" fill="#fa52c9"/>
<circle cx="27.1" cy="47.1" r="2.7" fill="#fa52c9"/>
<circle cx="32.3" cy="49.8" r="2.7" fill="#fa52c9"/>
<circle cx="39.5" cy="47.1" r="2.7" fill="#fa52c9"/>
<circle cx="46.9" cy="48.7" r="2.7" fill="#fa52c9"/>
<circle cx="54.0" cy="48.0" r="2.7" fill="#fa52c9"/>
<circle cx="57.6" cy="44.0" r="2.7" fill="#fa52c9"/>
<circle cx="75.4" cy="39.0" r="2.7" fill="#fa52c9"/>
<circle cx="72.7" cy="41.7" r="2.7" fill="#fa52c9"/>
<circle cx="61.1" cy="42.9" r="2.7" fill="#fa52c9"/>
<circle cx="67.6" cy="44.8" r="2.7" fill="#fa52c9"/>
<circle cx="71.9" cy="45.2" r="2.7" fill="#fa52c9"/>
<circle cx="77.3" cy="46.8" r="2.7" fill="#fa52c9"/>
<circle cx="81.4" cy="48.1" r="2.7" fill="#fa52c9"/>
<circle cx="87.0" cy="51.0" r="2.7" fill="#fa52c9"/>
<circle cx="93.1" cy="50.6" r="2.7" fill="#fa52c9"/>
<circle cx="67.2" cy="54.1" r="2.7" fill="#fa52c9"/>
<circle cx="72.7" cy="52.9" r="2.7" fill="#fa52c9"/>
<circle cx="67.6" cy="58.4" r="2.7" fill="#fa52c9"/>
<circle cx="83.9" cy="59.1" r="2.7" fill="#fa52c9"/>
<circle cx="88.5" cy="54.9" r="2.7" fill="#fa52c9"/>
<circle cx="92.4" cy="55.6" r="2.7" fill="#fa52c9"/>
<circle cx="95.5" cy="57.6" r="2.7" fill="#fa52c9"/>
<circle cx="78.5" cy="61.0" r="2.7" fill="#fa52c9"/>
<circle cx="90.8" cy="63.3" r="2.7" fill="#fa52c9"/>
<circle cx="104.0" cy="43.5" r="2.7" fill="#fa52c9"/>
<circle cx="116.8" cy="38.2" r="2.7" fill="#fa52c9"/>
<circle cx="114.1" cy="41.7" r="2.7" fill="#fa52c9"/>
<circle cx="122.6" cy="41.3" r="2.7" fill="#fa52c9"/>
<circle cx="111.4" cy="46.4" r="2.7" fill="#fa52c9"/>
<circle cx="104.8" cy="47.5" r="2.7" fill="#fa52c9"/>
<circle cx="120.0" cy="46.0" r="2.7" fill="#fa52c9"/>
<circle cx="123.7" cy="45.2" r="2.7" fill="#fa52c9"/>
<circle cx="108.3" cy="51.0" r="2.7" fill="#fa52c9"/>
<circle cx="113.7" cy="51.8" r="2.7" fill="#fa52c9"/>
<circle cx="99.0" cy="53.7" r="2.7" fill="#fa52c9"/>
<circle cx="104.4" cy="54.9" r="2.7" fill="#fa52c9"/>
<circle cx="110.2" cy="55.3" r="2.7" fill="#fa52c9"/>
<circle cx="120.3" cy="54.9" r="2.7" fill="#fa52c9"/>
<circle cx="123.7" cy="52.9" r="2.7" fill="#fa52c9"/>
<circle cx="126.8" cy="52.9" r="2.7" fill="#fa52c9"/>
<circle cx="103.6" cy="58.0" r="2.7" fill="#fa52c9"/>
<circle cx="113.3" cy="57.2" r="2.7" fill="#fa52c9"/>
<circle cx="117.5" cy="57.6" r="2.7" fill="#fa52c9"/>
<circle cx="123.0" cy="58.4" r="2.7" fill="#fa52c9"/>
<circle cx="97.4" cy="60.2" r="2.7" fill="#fa52c9"/>
<circle cx="109.0" cy="59.9" r="2.7" fill="#fa52c9"/>
<circle cx="128.6" cy="62.2" r="2.7" fill="#fa52c9"/>
<circle cx="97.1" cy="64.9" r="2.7" fill="#fa52c9"/>
<circle cx="99.0" cy="71.5" r="2.7" fill="#fa52c9"/>
<circle cx="131.3" cy="69.1" r="2.7" fill="#fa52c9"/>
<circle cx="135.1" cy="8.4" r="2.7" fill="#fa52c9"/>
<circle cx="127.4" cy="18.7" r="2.7" fill="#fa52c9"/>
<circle cx="119.4" cy="29.2" r="2.7" fill="#fa52c9"/>
<circle cx="133.9" cy="27.8" r="2.7" fill="#fa52c9"/>
<circle cx="146.6" cy="28.6" r="2.7" fill="#fa52c9"/>
<circle cx="128.4" cy="33.8" r="2.7" fill="#fa52c9"/>
<circle cx="135.3" cy="35.4" r="2.7" fill="#fa52c9"/>
<circle cx="105.7" cy="34.3" r="2.7" fill="#fa52c9"/>
<circle cx="117.2" cy="45.1" r="2.7" fill="#fa52c9"/>
<circle cx="36.2" cy="76.7" r="2.7" fill="#ffd60f"/>
</g>
<rect x="0" y="0" width="171.3" height="119.3" fill="none" stroke="#484848" stroke-width="1.25"/>
<path d="M16.8,0 v-1.8 M16.8,119.3 v1.8 M44.7,0 v-1.8 M44.7,119.3 v1.8 M72.6,0 v-1.8 M72.6,119.3 v1.8 M100.5,0 v-1.8 M100.5,119.3 v1.8 M128.4,0 v-1.8 M128.4,119.3 v1.8 M156.3,0 v-1.8 M156.3,119.3 v1.8 M0,17.3 h-1.8 M171.3,17.3 h1.8 M0,44.7 h-1.8 M171.3,44.7 h1.8 M0,72.1 h-1.8 M171.3,72.1 h1.8 M0,99.5 h-1.8 M171.3,99.5 h1.8" stroke="#3a3a3a" stroke-width="0.9" fill="none"/>
<text x="86.5" y="-2.8" font-size="10.4" letter-spacing="0.15" text-anchor="middle">NASA MERRA2</text>
</g>
<rect x="86.40" y="287.3" width="38.47" height="6.0" fill="#46063e"/>
<rect x="124.57" y="287.3" width="38.47" height="6.0" fill="#0a3cfa"/>
<rect x="162.74" y="287.3" width="38.47" height="6.0" fill="#14b4f0"/>
<rect x="200.91" y="287.3" width="38.47" height="6.0" fill="#14f0f0"/>
<rect x="239.08" y="287.3" width="38.47" height="6.0" fill="#28e628"/>
<rect x="277.25" y="287.3" width="38.47" height="6.0" fill="#96f028"/>
<rect x="315.42" y="287.3" width="38.47" height="6.0" fill="#ffd614"/>
<rect x="353.59" y="287.3" width="38.47" height="6.0" fill="#ff5a28"/>
<rect x="391.76" y="287.3" width="38.47" height="6.0" fill="#ff55cc"/>
<rect x="429.93" y="287.3" width="38.47" height="6.0" fill="#ffa0f5"/>
<rect x="86.4" y="287.3" width="381.7" height="6.0" fill="none" stroke="#333" stroke-width="0.8"/>
<text x="86.4" y="301.7" font-size="8.2" text-anchor="middle">−1.0</text>
<text x="124.6" y="301.7" font-size="8.2" text-anchor="middle">−0.8</text>
<text x="162.7" y="301.7" font-size="8.2" text-anchor="middle">−0.6</text>
<text x="200.9" y="301.7" font-size="8.2" text-anchor="middle">−0.4</text>
<text x="239.1" y="301.7" font-size="8.2" text-anchor="middle">−0.2</text>
<text x="277.2" y="301.7" font-size="8.2" text-anchor="middle">0.0</text>
<text x="315.4" y="301.7" font-size="8.2" text-anchor="middle">0.2</text>
<text x="353.6" y="301.7" font-size="8.2" text-anchor="middle">0.4</text>
<text x="391.8" y="301.7" font-size="8.2" text-anchor="middle">0.6</text>
<text x="429.9" y="301.7" font-size="8.2" text-anchor="middle">0.8</text>
<text x="468.1" y="301.7" font-size="8.2" text-anchor="middle">1.0</text>
<path d="M86.4,293.3 v1.8 M124.6,293.3 v1.8 M162.7,293.3 v1.8 M200.9,293.3 v1.8 M239.1,293.3 v1.8 M277.2,293.3 v1.8 M315.4,293.3 v1.8 M353.6,293.3 v1.8 M391.8,293.3 v1.8 M429.9,293.3 v1.8 M468.1,293.3 v1.8" stroke="#333" stroke-width="0.8"/>
<text x="277.2" y="318.0" font-size="10.2" text-anchor="middle">Correlation</text>
</svg></body></html>
